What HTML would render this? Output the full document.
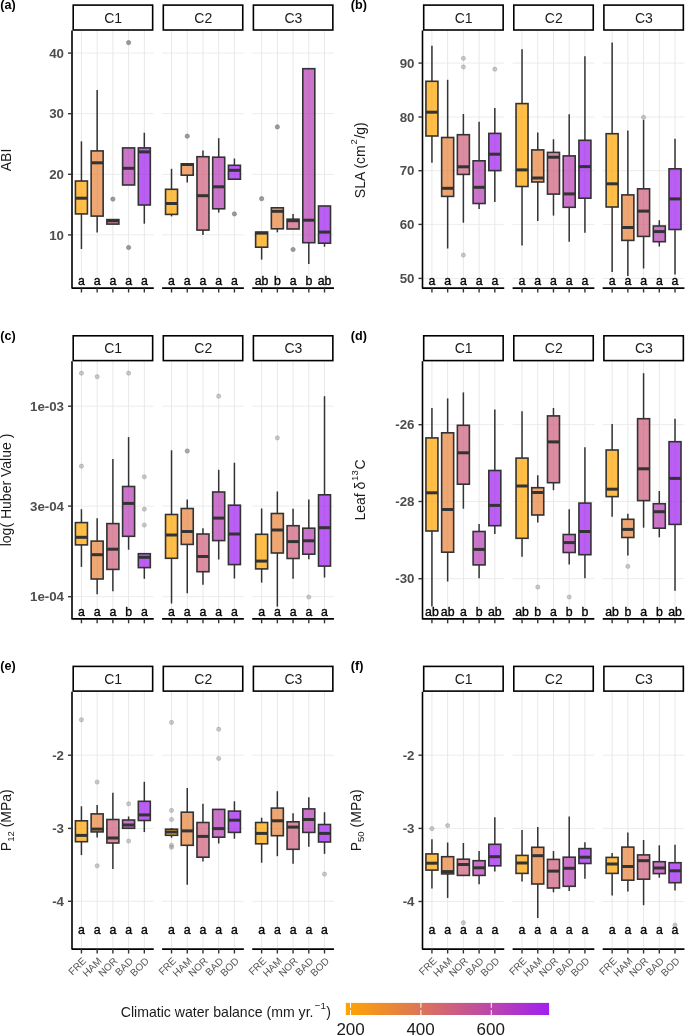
<!DOCTYPE html>
<html><head><meta charset="utf-8"><style>
html,body{margin:0;padding:0;background:#fff;width:685px;height:1036px;overflow:hidden}
svg{display:block;will-change:transform}
text{font-family:"Liberation Sans",sans-serif}
</style></head><body>
<svg width="685" height="1036" viewBox="0 0 685 1036">
<defs><linearGradient id="cg" x1="0" x2="1" y1="0" y2="0">
<stop offset="0" stop-color="#ffa500"/><stop offset="1" stop-color="#a020f0"/></linearGradient></defs>
<line x1="72" x2="153.75" y1="53.1" y2="53.1" stroke="#ececec" stroke-width="1"/>
<line x1="72" x2="153.75" y1="113.7" y2="113.7" stroke="#ececec" stroke-width="1"/>
<line x1="72" x2="153.75" y1="174.3" y2="174.3" stroke="#ececec" stroke-width="1"/>
<line x1="72" x2="153.75" y1="234.9" y2="234.9" stroke="#ececec" stroke-width="1"/>
<line x1="81.43" x2="81.43" y1="30" y2="288.1" stroke="#e8e8e8" stroke-width="1"/>
<line x1="97.15" x2="97.15" y1="30" y2="288.1" stroke="#e8e8e8" stroke-width="1"/>
<line x1="112.88" x2="112.88" y1="30" y2="288.1" stroke="#e8e8e8" stroke-width="1"/>
<line x1="128.6" x2="128.6" y1="30" y2="288.1" stroke="#e8e8e8" stroke-width="1"/>
<line x1="144.32" x2="144.32" y1="30" y2="288.1" stroke="#e8e8e8" stroke-width="1"/>
<line x1="162.1" x2="243.85" y1="53.1" y2="53.1" stroke="#ececec" stroke-width="1"/>
<line x1="162.1" x2="243.85" y1="113.7" y2="113.7" stroke="#ececec" stroke-width="1"/>
<line x1="162.1" x2="243.85" y1="174.3" y2="174.3" stroke="#ececec" stroke-width="1"/>
<line x1="162.1" x2="243.85" y1="234.9" y2="234.9" stroke="#ececec" stroke-width="1"/>
<line x1="171.53" x2="171.53" y1="30" y2="288.1" stroke="#e8e8e8" stroke-width="1"/>
<line x1="187.25" x2="187.25" y1="30" y2="288.1" stroke="#e8e8e8" stroke-width="1"/>
<line x1="202.97" x2="202.97" y1="30" y2="288.1" stroke="#e8e8e8" stroke-width="1"/>
<line x1="218.7" x2="218.7" y1="30" y2="288.1" stroke="#e8e8e8" stroke-width="1"/>
<line x1="234.42" x2="234.42" y1="30" y2="288.1" stroke="#e8e8e8" stroke-width="1"/>
<line x1="252.2" x2="333.95" y1="53.1" y2="53.1" stroke="#ececec" stroke-width="1"/>
<line x1="252.2" x2="333.95" y1="113.7" y2="113.7" stroke="#ececec" stroke-width="1"/>
<line x1="252.2" x2="333.95" y1="174.3" y2="174.3" stroke="#ececec" stroke-width="1"/>
<line x1="252.2" x2="333.95" y1="234.9" y2="234.9" stroke="#ececec" stroke-width="1"/>
<line x1="261.63" x2="261.63" y1="30" y2="288.1" stroke="#e8e8e8" stroke-width="1"/>
<line x1="277.35" x2="277.35" y1="30" y2="288.1" stroke="#e8e8e8" stroke-width="1"/>
<line x1="293.07" x2="293.07" y1="30" y2="288.1" stroke="#e8e8e8" stroke-width="1"/>
<line x1="308.8" x2="308.8" y1="30" y2="288.1" stroke="#e8e8e8" stroke-width="1"/>
<line x1="324.52" x2="324.52" y1="30" y2="288.1" stroke="#e8e8e8" stroke-width="1"/>
<line x1="81.43" x2="81.43" y1="141.3" y2="181" stroke="#333333" stroke-width="1.5"/>
<line x1="81.43" x2="81.43" y1="213.9" y2="249" stroke="#333333" stroke-width="1.5"/>
<rect x="75.43" y="181" width="12" height="32.9" fill="#ffa500" fill-opacity="0.72" stroke="#333333" stroke-width="1.6"/>
<line x1="75.43" x2="87.43" y1="198.2" y2="198.2" stroke="#333333" stroke-width="3.0"/>
<text x="81.43" y="285.1" font-size="12.3" text-anchor="middle" fill="#000" stroke="#000" stroke-width="0.35">a</text>
<line x1="97.15" x2="97.15" y1="89.9" y2="150.9" stroke="#333333" stroke-width="1.5"/>
<line x1="97.15" x2="97.15" y1="216.1" y2="232.6" stroke="#333333" stroke-width="1.5"/>
<rect x="91.15" y="150.9" width="12" height="65.2" fill="#e8843b" fill-opacity="0.72" stroke="#333333" stroke-width="1.6"/>
<line x1="91.15" x2="103.15" y1="162.8" y2="162.8" stroke="#333333" stroke-width="3.0"/>
<text x="97.15" y="285.1" font-size="12.3" text-anchor="middle" fill="#000" stroke="#000" stroke-width="0.35">a</text>
<rect x="106.88" y="219.6" width="12" height="4.5" fill="#ce607c" fill-opacity="0.72" stroke="#333333" stroke-width="1.6"/>
<line x1="106.88" x2="118.88" y1="220.8" y2="220.8" stroke="#333333" stroke-width="3.0"/>
<circle cx="112.88" cy="199.1" r="2.1" fill="#808080" fill-opacity="0.78" stroke="#808080" stroke-opacity="0.78" stroke-width="0.9"/>
<text x="112.88" y="285.1" font-size="12.3" text-anchor="middle" fill="#000" stroke="#000" stroke-width="0.35">a</text>
<rect x="122.6" y="147.9" width="12" height="37.1" fill="#b740b6" fill-opacity="0.72" stroke="#333333" stroke-width="1.6"/>
<line x1="122.6" x2="134.6" y1="168.3" y2="168.3" stroke="#333333" stroke-width="3.0"/>
<circle cx="128.6" cy="42.6" r="2.1" fill="#808080" fill-opacity="0.78" stroke="#808080" stroke-opacity="0.78" stroke-width="0.9"/>
<circle cx="128.6" cy="247.5" r="2.1" fill="#808080" fill-opacity="0.78" stroke="#808080" stroke-opacity="0.78" stroke-width="0.9"/>
<text x="128.6" y="285.1" font-size="12.3" text-anchor="middle" fill="#000" stroke="#000" stroke-width="0.35">a</text>
<line x1="144.32" x2="144.32" y1="132.7" y2="147.9" stroke="#333333" stroke-width="1.5"/>
<line x1="144.32" x2="144.32" y1="205" y2="223.7" stroke="#333333" stroke-width="1.5"/>
<rect x="138.32" y="147.9" width="12" height="57.1" fill="#a020f0" fill-opacity="0.72" stroke="#333333" stroke-width="1.6"/>
<line x1="138.32" x2="150.32" y1="151.9" y2="151.9" stroke="#333333" stroke-width="3.0"/>
<text x="144.32" y="285.1" font-size="12.3" text-anchor="middle" fill="#000" stroke="#000" stroke-width="0.35">a</text>
<line x1="171.53" x2="171.53" y1="168.8" y2="189.3" stroke="#333333" stroke-width="1.5"/>
<line x1="171.53" x2="171.53" y1="214.4" y2="216.4" stroke="#333333" stroke-width="1.5"/>
<rect x="165.53" y="189.3" width="12" height="25.1" fill="#ffa500" fill-opacity="0.72" stroke="#333333" stroke-width="1.6"/>
<line x1="165.53" x2="177.53" y1="203.5" y2="203.5" stroke="#333333" stroke-width="3.0"/>
<text x="171.53" y="285.1" font-size="12.3" text-anchor="middle" fill="#000" stroke="#000" stroke-width="0.35">a</text>
<line x1="187.25" x2="187.25" y1="175.2" y2="182.5" stroke="#333333" stroke-width="1.5"/>
<rect x="181.25" y="163.8" width="12" height="11.4" fill="#e8843b" fill-opacity="0.72" stroke="#333333" stroke-width="1.6"/>
<line x1="181.25" x2="193.25" y1="164.5" y2="164.5" stroke="#333333" stroke-width="3.0"/>
<circle cx="187.25" cy="136.2" r="2.1" fill="#808080" fill-opacity="0.78" stroke="#808080" stroke-opacity="0.78" stroke-width="0.9"/>
<text x="187.25" y="285.1" font-size="12.3" text-anchor="middle" fill="#000" stroke="#000" stroke-width="0.35">a</text>
<line x1="202.97" x2="202.97" y1="150.4" y2="156.7" stroke="#333333" stroke-width="1.5"/>
<line x1="202.97" x2="202.97" y1="230.1" y2="234.9" stroke="#333333" stroke-width="1.5"/>
<rect x="196.97" y="156.7" width="12" height="73.4" fill="#ce607c" fill-opacity="0.72" stroke="#333333" stroke-width="1.6"/>
<line x1="196.97" x2="208.97" y1="195.7" y2="195.7" stroke="#333333" stroke-width="3.0"/>
<text x="202.97" y="285.1" font-size="12.3" text-anchor="middle" fill="#000" stroke="#000" stroke-width="0.35">a</text>
<line x1="218.7" x2="218.7" y1="138.2" y2="157.2" stroke="#333333" stroke-width="1.5"/>
<line x1="218.7" x2="218.7" y1="208.8" y2="212.6" stroke="#333333" stroke-width="1.5"/>
<rect x="212.7" y="157.2" width="12" height="51.6" fill="#b740b6" fill-opacity="0.72" stroke="#333333" stroke-width="1.6"/>
<line x1="212.7" x2="224.7" y1="186.8" y2="186.8" stroke="#333333" stroke-width="3.0"/>
<text x="218.7" y="285.1" font-size="12.3" text-anchor="middle" fill="#000" stroke="#000" stroke-width="0.35">a</text>
<line x1="234.42" x2="234.42" y1="158.5" y2="165.3" stroke="#333333" stroke-width="1.5"/>
<rect x="228.42" y="165.3" width="12" height="13.9" fill="#a020f0" fill-opacity="0.72" stroke="#333333" stroke-width="1.6"/>
<line x1="228.42" x2="240.42" y1="170.3" y2="170.3" stroke="#333333" stroke-width="3.0"/>
<circle cx="234.42" cy="213.9" r="2.1" fill="#808080" fill-opacity="0.78" stroke="#808080" stroke-opacity="0.78" stroke-width="0.9"/>
<text x="234.42" y="285.1" font-size="12.3" text-anchor="middle" fill="#000" stroke="#000" stroke-width="0.35">a</text>
<line x1="261.63" x2="261.63" y1="247.2" y2="259.6" stroke="#333333" stroke-width="1.5"/>
<rect x="255.63" y="232.1" width="12" height="15.1" fill="#ffa500" fill-opacity="0.72" stroke="#333333" stroke-width="1.6"/>
<line x1="255.63" x2="267.63" y1="233.1" y2="233.1" stroke="#333333" stroke-width="3.0"/>
<circle cx="261.63" cy="198.7" r="2.1" fill="#808080" fill-opacity="0.78" stroke="#808080" stroke-opacity="0.78" stroke-width="0.9"/>
<text x="261.63" y="285.1" font-size="12.3" text-anchor="middle" fill="#000" stroke="#000" stroke-width="0.35">ab</text>
<line x1="277.35" x2="277.35" y1="228.8" y2="232.3" stroke="#333333" stroke-width="1.5"/>
<rect x="271.35" y="207.8" width="12" height="21" fill="#e8843b" fill-opacity="0.72" stroke="#333333" stroke-width="1.6"/>
<line x1="271.35" x2="283.35" y1="211.3" y2="211.3" stroke="#333333" stroke-width="3.0"/>
<circle cx="277.35" cy="126.9" r="2.1" fill="#808080" fill-opacity="0.78" stroke="#808080" stroke-opacity="0.78" stroke-width="0.9"/>
<text x="277.35" y="285.1" font-size="12.3" text-anchor="middle" fill="#000" stroke="#000" stroke-width="0.35">b</text>
<line x1="293.07" x2="293.07" y1="213.9" y2="219.2" stroke="#333333" stroke-width="1.5"/>
<rect x="287.07" y="219.2" width="12" height="9.8" fill="#ce607c" fill-opacity="0.72" stroke="#333333" stroke-width="1.6"/>
<line x1="287.07" x2="299.07" y1="220.7" y2="220.7" stroke="#333333" stroke-width="3.0"/>
<circle cx="293.07" cy="249.5" r="2.1" fill="#808080" fill-opacity="0.78" stroke="#808080" stroke-opacity="0.78" stroke-width="0.9"/>
<text x="293.07" y="285.1" font-size="12.3" text-anchor="middle" fill="#000" stroke="#000" stroke-width="0.35">a</text>
<line x1="308.8" x2="308.8" y1="242.7" y2="263.9" stroke="#333333" stroke-width="1.5"/>
<rect x="302.8" y="68.7" width="12" height="174" fill="#b740b6" fill-opacity="0.72" stroke="#333333" stroke-width="1.6"/>
<line x1="302.8" x2="314.8" y1="220.2" y2="220.2" stroke="#333333" stroke-width="3.0"/>
<text x="308.8" y="285.1" font-size="12.3" text-anchor="middle" fill="#000" stroke="#000" stroke-width="0.35">b</text>
<line x1="324.52" x2="324.52" y1="243.2" y2="246.7" stroke="#333333" stroke-width="1.5"/>
<rect x="318.52" y="206" width="12" height="37.2" fill="#a020f0" fill-opacity="0.72" stroke="#333333" stroke-width="1.6"/>
<line x1="318.52" x2="330.52" y1="232.1" y2="232.1" stroke="#333333" stroke-width="3.0"/>
<text x="324.52" y="285.1" font-size="12.3" text-anchor="middle" fill="#000" stroke="#000" stroke-width="0.35">ab</text>
<path d="M72 30.6V288.1H153.75" fill="none" stroke="#000" stroke-width="1.6" stroke-linejoin="round"/>
<line x1="81.43" x2="81.43" y1="288.1" y2="292.5" stroke="#333" stroke-width="1.4"/>
<line x1="97.15" x2="97.15" y1="288.1" y2="292.5" stroke="#333" stroke-width="1.4"/>
<line x1="112.88" x2="112.88" y1="288.1" y2="292.5" stroke="#333" stroke-width="1.4"/>
<line x1="128.6" x2="128.6" y1="288.1" y2="292.5" stroke="#333" stroke-width="1.4"/>
<line x1="144.32" x2="144.32" y1="288.1" y2="292.5" stroke="#333" stroke-width="1.4"/>
<rect x="73.2" y="5.1" width="79.45" height="24.9" fill="#fff" stroke="#000" stroke-width="1.6"/>
<text x="113.17" y="23.1" font-size="14" text-anchor="middle" fill="#1a1a1a">C1</text>
<line x1="162.1" x2="243.85" y1="288.1" y2="288.1" stroke="#000" stroke-width="1.6"/>
<line x1="171.53" x2="171.53" y1="288.1" y2="292.5" stroke="#333" stroke-width="1.4"/>
<line x1="187.25" x2="187.25" y1="288.1" y2="292.5" stroke="#333" stroke-width="1.4"/>
<line x1="202.97" x2="202.97" y1="288.1" y2="292.5" stroke="#333" stroke-width="1.4"/>
<line x1="218.7" x2="218.7" y1="288.1" y2="292.5" stroke="#333" stroke-width="1.4"/>
<line x1="234.42" x2="234.42" y1="288.1" y2="292.5" stroke="#333" stroke-width="1.4"/>
<rect x="163.3" y="5.1" width="79.45" height="24.9" fill="#fff" stroke="#000" stroke-width="1.6"/>
<text x="203.28" y="23.1" font-size="14" text-anchor="middle" fill="#1a1a1a">C2</text>
<line x1="252.2" x2="333.95" y1="288.1" y2="288.1" stroke="#000" stroke-width="1.6"/>
<line x1="261.63" x2="261.63" y1="288.1" y2="292.5" stroke="#333" stroke-width="1.4"/>
<line x1="277.35" x2="277.35" y1="288.1" y2="292.5" stroke="#333" stroke-width="1.4"/>
<line x1="293.07" x2="293.07" y1="288.1" y2="292.5" stroke="#333" stroke-width="1.4"/>
<line x1="308.8" x2="308.8" y1="288.1" y2="292.5" stroke="#333" stroke-width="1.4"/>
<line x1="324.52" x2="324.52" y1="288.1" y2="292.5" stroke="#333" stroke-width="1.4"/>
<rect x="253.4" y="5.1" width="79.45" height="24.9" fill="#fff" stroke="#000" stroke-width="1.6"/>
<text x="293.38" y="23.1" font-size="14" text-anchor="middle" fill="#1a1a1a">C3</text>
<line x1="68" x2="72" y1="53.1" y2="53.1" stroke="#333" stroke-width="1.4"/>
<text x="64" y="57.8" font-size="13.3" font-weight="bold" text-anchor="end" fill="#4d4d4d">40</text>
<line x1="68" x2="72" y1="113.7" y2="113.7" stroke="#333" stroke-width="1.4"/>
<text x="64" y="118.4" font-size="13.3" font-weight="bold" text-anchor="end" fill="#4d4d4d">30</text>
<line x1="68" x2="72" y1="174.3" y2="174.3" stroke="#333" stroke-width="1.4"/>
<text x="64" y="179" font-size="13.3" font-weight="bold" text-anchor="end" fill="#4d4d4d">20</text>
<line x1="68" x2="72" y1="234.9" y2="234.9" stroke="#333" stroke-width="1.4"/>
<text x="64" y="239.6" font-size="13.3" font-weight="bold" text-anchor="end" fill="#4d4d4d">10</text>
<text transform="translate(10.9,160) rotate(-90)" font-size="14" text-anchor="middle" fill="#1a1a1a">ABI</text>
<text x="0.3" y="8.7" font-size="12.6" font-weight="bold" fill="#000">(a)</text>
<line x1="422.5" x2="504.25" y1="63.1" y2="63.1" stroke="#ececec" stroke-width="1"/>
<line x1="422.5" x2="504.25" y1="117" y2="117" stroke="#ececec" stroke-width="1"/>
<line x1="422.5" x2="504.25" y1="170.7" y2="170.7" stroke="#ececec" stroke-width="1"/>
<line x1="422.5" x2="504.25" y1="224.4" y2="224.4" stroke="#ececec" stroke-width="1"/>
<line x1="422.5" x2="504.25" y1="278.4" y2="278.4" stroke="#ececec" stroke-width="1"/>
<line x1="431.93" x2="431.93" y1="30" y2="288.1" stroke="#e8e8e8" stroke-width="1"/>
<line x1="447.65" x2="447.65" y1="30" y2="288.1" stroke="#e8e8e8" stroke-width="1"/>
<line x1="463.38" x2="463.38" y1="30" y2="288.1" stroke="#e8e8e8" stroke-width="1"/>
<line x1="479.1" x2="479.1" y1="30" y2="288.1" stroke="#e8e8e8" stroke-width="1"/>
<line x1="494.82" x2="494.82" y1="30" y2="288.1" stroke="#e8e8e8" stroke-width="1"/>
<line x1="512.6" x2="594.35" y1="63.1" y2="63.1" stroke="#ececec" stroke-width="1"/>
<line x1="512.6" x2="594.35" y1="117" y2="117" stroke="#ececec" stroke-width="1"/>
<line x1="512.6" x2="594.35" y1="170.7" y2="170.7" stroke="#ececec" stroke-width="1"/>
<line x1="512.6" x2="594.35" y1="224.4" y2="224.4" stroke="#ececec" stroke-width="1"/>
<line x1="512.6" x2="594.35" y1="278.4" y2="278.4" stroke="#ececec" stroke-width="1"/>
<line x1="522.03" x2="522.03" y1="30" y2="288.1" stroke="#e8e8e8" stroke-width="1"/>
<line x1="537.75" x2="537.75" y1="30" y2="288.1" stroke="#e8e8e8" stroke-width="1"/>
<line x1="553.48" x2="553.48" y1="30" y2="288.1" stroke="#e8e8e8" stroke-width="1"/>
<line x1="569.2" x2="569.2" y1="30" y2="288.1" stroke="#e8e8e8" stroke-width="1"/>
<line x1="584.92" x2="584.92" y1="30" y2="288.1" stroke="#e8e8e8" stroke-width="1"/>
<line x1="602.7" x2="684.45" y1="63.1" y2="63.1" stroke="#ececec" stroke-width="1"/>
<line x1="602.7" x2="684.45" y1="117" y2="117" stroke="#ececec" stroke-width="1"/>
<line x1="602.7" x2="684.45" y1="170.7" y2="170.7" stroke="#ececec" stroke-width="1"/>
<line x1="602.7" x2="684.45" y1="224.4" y2="224.4" stroke="#ececec" stroke-width="1"/>
<line x1="602.7" x2="684.45" y1="278.4" y2="278.4" stroke="#ececec" stroke-width="1"/>
<line x1="612.13" x2="612.13" y1="30" y2="288.1" stroke="#e8e8e8" stroke-width="1"/>
<line x1="627.85" x2="627.85" y1="30" y2="288.1" stroke="#e8e8e8" stroke-width="1"/>
<line x1="643.58" x2="643.58" y1="30" y2="288.1" stroke="#e8e8e8" stroke-width="1"/>
<line x1="659.3" x2="659.3" y1="30" y2="288.1" stroke="#e8e8e8" stroke-width="1"/>
<line x1="675.02" x2="675.02" y1="30" y2="288.1" stroke="#e8e8e8" stroke-width="1"/>
<line x1="431.93" x2="431.93" y1="45.7" y2="81.3" stroke="#333333" stroke-width="1.5"/>
<line x1="431.93" x2="431.93" y1="136" y2="162.8" stroke="#333333" stroke-width="1.5"/>
<rect x="425.93" y="81.3" width="12" height="54.7" fill="#ffa500" fill-opacity="0.72" stroke="#333333" stroke-width="1.6"/>
<line x1="425.93" x2="437.93" y1="112.2" y2="112.2" stroke="#333333" stroke-width="3.0"/>
<text x="431.93" y="285.1" font-size="12.3" text-anchor="middle" fill="#000" stroke="#000" stroke-width="0.35">a</text>
<line x1="447.65" x2="447.65" y1="79.8" y2="137.5" stroke="#333333" stroke-width="1.5"/>
<line x1="447.65" x2="447.65" y1="196.4" y2="248.5" stroke="#333333" stroke-width="1.5"/>
<rect x="441.65" y="137.5" width="12" height="58.9" fill="#e8843b" fill-opacity="0.72" stroke="#333333" stroke-width="1.6"/>
<line x1="441.65" x2="453.65" y1="188.3" y2="188.3" stroke="#333333" stroke-width="3.0"/>
<text x="447.65" y="285.1" font-size="12.3" text-anchor="middle" fill="#000" stroke="#000" stroke-width="0.35">a</text>
<line x1="463.38" x2="463.38" y1="114" y2="134.7" stroke="#333333" stroke-width="1.5"/>
<line x1="463.38" x2="463.38" y1="174.4" y2="222.7" stroke="#333333" stroke-width="1.5"/>
<rect x="457.38" y="134.7" width="12" height="39.7" fill="#ce607c" fill-opacity="0.72" stroke="#333333" stroke-width="1.6"/>
<line x1="457.38" x2="469.38" y1="166.8" y2="166.8" stroke="#333333" stroke-width="3.0"/>
<circle cx="463.38" cy="58.3" r="2.1" fill="#808080" fill-opacity="0.4" stroke="#808080" stroke-opacity="0.4" stroke-width="0.9"/>
<circle cx="463.38" cy="66.9" r="2.1" fill="#808080" fill-opacity="0.4" stroke="#808080" stroke-opacity="0.4" stroke-width="0.9"/>
<circle cx="463.38" cy="255.1" r="2.1" fill="#808080" fill-opacity="0.4" stroke="#808080" stroke-opacity="0.4" stroke-width="0.9"/>
<text x="463.38" y="285.1" font-size="12.3" text-anchor="middle" fill="#000" stroke="#000" stroke-width="0.35">a</text>
<line x1="479.1" x2="479.1" y1="121.8" y2="160.8" stroke="#333333" stroke-width="1.5"/>
<line x1="479.1" x2="479.1" y1="203.5" y2="209" stroke="#333333" stroke-width="1.5"/>
<rect x="473.1" y="160.8" width="12" height="42.7" fill="#b740b6" fill-opacity="0.72" stroke="#333333" stroke-width="1.6"/>
<line x1="473.1" x2="485.1" y1="187.3" y2="187.3" stroke="#333333" stroke-width="3.0"/>
<text x="479.1" y="285.1" font-size="12.3" text-anchor="middle" fill="#000" stroke="#000" stroke-width="0.35">a</text>
<line x1="494.82" x2="494.82" y1="107.9" y2="133.4" stroke="#333333" stroke-width="1.5"/>
<line x1="494.82" x2="494.82" y1="170.6" y2="202" stroke="#333333" stroke-width="1.5"/>
<rect x="488.82" y="133.4" width="12" height="37.2" fill="#a020f0" fill-opacity="0.72" stroke="#333333" stroke-width="1.6"/>
<line x1="488.82" x2="500.82" y1="154.2" y2="154.2" stroke="#333333" stroke-width="3.0"/>
<circle cx="494.82" cy="69.2" r="2.1" fill="#808080" fill-opacity="0.4" stroke="#808080" stroke-opacity="0.4" stroke-width="0.9"/>
<text x="494.82" y="285.1" font-size="12.3" text-anchor="middle" fill="#000" stroke="#000" stroke-width="0.35">a</text>
<line x1="522.03" x2="522.03" y1="49.2" y2="103.6" stroke="#333333" stroke-width="1.5"/>
<line x1="522.03" x2="522.03" y1="186.5" y2="245.5" stroke="#333333" stroke-width="1.5"/>
<rect x="516.03" y="103.6" width="12" height="82.9" fill="#ffa500" fill-opacity="0.72" stroke="#333333" stroke-width="1.6"/>
<line x1="516.03" x2="528.03" y1="169.9" y2="169.9" stroke="#333333" stroke-width="3.0"/>
<text x="522.03" y="285.1" font-size="12.3" text-anchor="middle" fill="#000" stroke="#000" stroke-width="0.35">a</text>
<line x1="537.75" x2="537.75" y1="132.4" y2="149.9" stroke="#333333" stroke-width="1.5"/>
<line x1="537.75" x2="537.75" y1="182" y2="221" stroke="#333333" stroke-width="1.5"/>
<rect x="531.75" y="149.9" width="12" height="32.1" fill="#e8843b" fill-opacity="0.72" stroke="#333333" stroke-width="1.6"/>
<line x1="531.75" x2="543.75" y1="178" y2="178" stroke="#333333" stroke-width="3.0"/>
<text x="537.75" y="285.1" font-size="12.3" text-anchor="middle" fill="#000" stroke="#000" stroke-width="0.35">a</text>
<line x1="553.48" x2="553.48" y1="139.3" y2="152.4" stroke="#333333" stroke-width="1.5"/>
<line x1="553.48" x2="553.48" y1="194.1" y2="215.6" stroke="#333333" stroke-width="1.5"/>
<rect x="547.48" y="152.4" width="12" height="41.7" fill="#ce607c" fill-opacity="0.72" stroke="#333333" stroke-width="1.6"/>
<line x1="547.48" x2="559.48" y1="157.2" y2="157.2" stroke="#333333" stroke-width="3.0"/>
<text x="553.48" y="285.1" font-size="12.3" text-anchor="middle" fill="#000" stroke="#000" stroke-width="0.35">a</text>
<line x1="569.2" x2="569.2" y1="114.2" y2="155.9" stroke="#333333" stroke-width="1.5"/>
<line x1="569.2" x2="569.2" y1="207.3" y2="241.7" stroke="#333333" stroke-width="1.5"/>
<rect x="563.2" y="155.9" width="12" height="51.4" fill="#b740b6" fill-opacity="0.72" stroke="#333333" stroke-width="1.6"/>
<line x1="563.2" x2="575.2" y1="193.9" y2="193.9" stroke="#333333" stroke-width="3.0"/>
<text x="569.2" y="285.1" font-size="12.3" text-anchor="middle" fill="#000" stroke="#000" stroke-width="0.35">a</text>
<line x1="584.92" x2="584.92" y1="56.3" y2="140.3" stroke="#333333" stroke-width="1.5"/>
<line x1="584.92" x2="584.92" y1="198.2" y2="232.8" stroke="#333333" stroke-width="1.5"/>
<rect x="578.92" y="140.3" width="12" height="57.9" fill="#a020f0" fill-opacity="0.72" stroke="#333333" stroke-width="1.6"/>
<line x1="578.92" x2="590.92" y1="166.6" y2="166.6" stroke="#333333" stroke-width="3.0"/>
<text x="584.92" y="285.1" font-size="12.3" text-anchor="middle" fill="#000" stroke="#000" stroke-width="0.35">a</text>
<line x1="612.13" x2="612.13" y1="42.6" y2="133.7" stroke="#333333" stroke-width="1.5"/>
<line x1="612.13" x2="612.13" y1="207" y2="272" stroke="#333333" stroke-width="1.5"/>
<rect x="606.13" y="133.7" width="12" height="73.3" fill="#ffa500" fill-opacity="0.72" stroke="#333333" stroke-width="1.6"/>
<line x1="606.13" x2="618.13" y1="183.8" y2="183.8" stroke="#333333" stroke-width="3.0"/>
<text x="612.13" y="285.1" font-size="12.3" text-anchor="middle" fill="#000" stroke="#000" stroke-width="0.35">a</text>
<line x1="627.85" x2="627.85" y1="130.4" y2="194.9" stroke="#333333" stroke-width="1.5"/>
<line x1="627.85" x2="627.85" y1="240.4" y2="276.1" stroke="#333333" stroke-width="1.5"/>
<rect x="621.85" y="194.9" width="12" height="45.5" fill="#e8843b" fill-opacity="0.72" stroke="#333333" stroke-width="1.6"/>
<line x1="621.85" x2="633.85" y1="227.5" y2="227.5" stroke="#333333" stroke-width="3.0"/>
<text x="627.85" y="285.1" font-size="12.3" text-anchor="middle" fill="#000" stroke="#000" stroke-width="0.35">a</text>
<line x1="643.58" x2="643.58" y1="119.8" y2="188.8" stroke="#333333" stroke-width="1.5"/>
<line x1="643.58" x2="643.58" y1="236.4" y2="268.5" stroke="#333333" stroke-width="1.5"/>
<rect x="637.58" y="188.8" width="12" height="47.6" fill="#ce607c" fill-opacity="0.72" stroke="#333333" stroke-width="1.6"/>
<line x1="637.58" x2="649.58" y1="211.1" y2="211.1" stroke="#333333" stroke-width="3.0"/>
<circle cx="643.58" cy="117.3" r="2.1" fill="#808080" fill-opacity="0.4" stroke="#808080" stroke-opacity="0.4" stroke-width="0.9"/>
<text x="643.58" y="285.1" font-size="12.3" text-anchor="middle" fill="#000" stroke="#000" stroke-width="0.35">a</text>
<line x1="659.3" x2="659.3" y1="220.2" y2="226" stroke="#333333" stroke-width="1.5"/>
<line x1="659.3" x2="659.3" y1="241.7" y2="246.5" stroke="#333333" stroke-width="1.5"/>
<rect x="653.3" y="226" width="12" height="15.7" fill="#b740b6" fill-opacity="0.72" stroke="#333333" stroke-width="1.6"/>
<line x1="653.3" x2="665.3" y1="231.6" y2="231.6" stroke="#333333" stroke-width="3.0"/>
<text x="659.3" y="285.1" font-size="12.3" text-anchor="middle" fill="#000" stroke="#000" stroke-width="0.35">a</text>
<line x1="675.02" x2="675.02" y1="138.8" y2="168.8" stroke="#333333" stroke-width="1.5"/>
<line x1="675.02" x2="675.02" y1="229.5" y2="274.6" stroke="#333333" stroke-width="1.5"/>
<rect x="669.02" y="168.8" width="12" height="60.7" fill="#a020f0" fill-opacity="0.72" stroke="#333333" stroke-width="1.6"/>
<line x1="669.02" x2="681.02" y1="198.9" y2="198.9" stroke="#333333" stroke-width="3.0"/>
<text x="675.02" y="285.1" font-size="12.3" text-anchor="middle" fill="#000" stroke="#000" stroke-width="0.35">a</text>
<path d="M422.5 30.6V288.1H504.25" fill="none" stroke="#000" stroke-width="1.6" stroke-linejoin="round"/>
<line x1="431.93" x2="431.93" y1="288.1" y2="292.5" stroke="#333" stroke-width="1.4"/>
<line x1="447.65" x2="447.65" y1="288.1" y2="292.5" stroke="#333" stroke-width="1.4"/>
<line x1="463.38" x2="463.38" y1="288.1" y2="292.5" stroke="#333" stroke-width="1.4"/>
<line x1="479.1" x2="479.1" y1="288.1" y2="292.5" stroke="#333" stroke-width="1.4"/>
<line x1="494.82" x2="494.82" y1="288.1" y2="292.5" stroke="#333" stroke-width="1.4"/>
<rect x="423.7" y="5.1" width="79.45" height="24.9" fill="#fff" stroke="#000" stroke-width="1.6"/>
<text x="463.68" y="23.1" font-size="14" text-anchor="middle" fill="#1a1a1a">C1</text>
<line x1="512.6" x2="594.35" y1="288.1" y2="288.1" stroke="#000" stroke-width="1.6"/>
<line x1="522.03" x2="522.03" y1="288.1" y2="292.5" stroke="#333" stroke-width="1.4"/>
<line x1="537.75" x2="537.75" y1="288.1" y2="292.5" stroke="#333" stroke-width="1.4"/>
<line x1="553.48" x2="553.48" y1="288.1" y2="292.5" stroke="#333" stroke-width="1.4"/>
<line x1="569.2" x2="569.2" y1="288.1" y2="292.5" stroke="#333" stroke-width="1.4"/>
<line x1="584.92" x2="584.92" y1="288.1" y2="292.5" stroke="#333" stroke-width="1.4"/>
<rect x="513.8" y="5.1" width="79.45" height="24.9" fill="#fff" stroke="#000" stroke-width="1.6"/>
<text x="553.77" y="23.1" font-size="14" text-anchor="middle" fill="#1a1a1a">C2</text>
<line x1="602.7" x2="684.45" y1="288.1" y2="288.1" stroke="#000" stroke-width="1.6"/>
<line x1="612.13" x2="612.13" y1="288.1" y2="292.5" stroke="#333" stroke-width="1.4"/>
<line x1="627.85" x2="627.85" y1="288.1" y2="292.5" stroke="#333" stroke-width="1.4"/>
<line x1="643.58" x2="643.58" y1="288.1" y2="292.5" stroke="#333" stroke-width="1.4"/>
<line x1="659.3" x2="659.3" y1="288.1" y2="292.5" stroke="#333" stroke-width="1.4"/>
<line x1="675.02" x2="675.02" y1="288.1" y2="292.5" stroke="#333" stroke-width="1.4"/>
<rect x="603.9" y="5.1" width="79.45" height="24.9" fill="#fff" stroke="#000" stroke-width="1.6"/>
<text x="643.88" y="23.1" font-size="14" text-anchor="middle" fill="#1a1a1a">C3</text>
<line x1="418.5" x2="422.5" y1="63.1" y2="63.1" stroke="#333" stroke-width="1.4"/>
<text x="414.5" y="67.8" font-size="13.3" font-weight="bold" text-anchor="end" fill="#4d4d4d">90</text>
<line x1="418.5" x2="422.5" y1="117" y2="117" stroke="#333" stroke-width="1.4"/>
<text x="414.5" y="121.7" font-size="13.3" font-weight="bold" text-anchor="end" fill="#4d4d4d">80</text>
<line x1="418.5" x2="422.5" y1="170.7" y2="170.7" stroke="#333" stroke-width="1.4"/>
<text x="414.5" y="175.4" font-size="13.3" font-weight="bold" text-anchor="end" fill="#4d4d4d">70</text>
<line x1="418.5" x2="422.5" y1="224.4" y2="224.4" stroke="#333" stroke-width="1.4"/>
<text x="414.5" y="229.1" font-size="13.3" font-weight="bold" text-anchor="end" fill="#4d4d4d">60</text>
<line x1="418.5" x2="422.5" y1="278.4" y2="278.4" stroke="#333" stroke-width="1.4"/>
<text x="414.5" y="283.1" font-size="13.3" font-weight="bold" text-anchor="end" fill="#4d4d4d">50</text>
<text transform="translate(364.6,160.2) rotate(-90)" font-size="14" text-anchor="middle" fill="#1a1a1a">SLA (cm<tspan dx="0.7" dy="-7.3" font-size="9.5">2</tspan><tspan dx="0.7" dy="7.3">/g)</tspan></text>
<text x="350.8" y="8.7" font-size="12.6" font-weight="bold" fill="#000">(b)</text>
<line x1="72" x2="153.75" y1="406.2" y2="406.2" stroke="#ececec" stroke-width="1"/>
<line x1="72" x2="153.75" y1="506.1" y2="506.1" stroke="#ececec" stroke-width="1"/>
<line x1="72" x2="153.75" y1="596.7" y2="596.7" stroke="#ececec" stroke-width="1"/>
<line x1="81.43" x2="81.43" y1="360.6" y2="618.9" stroke="#e8e8e8" stroke-width="1"/>
<line x1="97.15" x2="97.15" y1="360.6" y2="618.9" stroke="#e8e8e8" stroke-width="1"/>
<line x1="112.88" x2="112.88" y1="360.6" y2="618.9" stroke="#e8e8e8" stroke-width="1"/>
<line x1="128.6" x2="128.6" y1="360.6" y2="618.9" stroke="#e8e8e8" stroke-width="1"/>
<line x1="144.32" x2="144.32" y1="360.6" y2="618.9" stroke="#e8e8e8" stroke-width="1"/>
<line x1="162.1" x2="243.85" y1="406.2" y2="406.2" stroke="#ececec" stroke-width="1"/>
<line x1="162.1" x2="243.85" y1="506.1" y2="506.1" stroke="#ececec" stroke-width="1"/>
<line x1="162.1" x2="243.85" y1="596.7" y2="596.7" stroke="#ececec" stroke-width="1"/>
<line x1="171.53" x2="171.53" y1="360.6" y2="618.9" stroke="#e8e8e8" stroke-width="1"/>
<line x1="187.25" x2="187.25" y1="360.6" y2="618.9" stroke="#e8e8e8" stroke-width="1"/>
<line x1="202.97" x2="202.97" y1="360.6" y2="618.9" stroke="#e8e8e8" stroke-width="1"/>
<line x1="218.7" x2="218.7" y1="360.6" y2="618.9" stroke="#e8e8e8" stroke-width="1"/>
<line x1="234.42" x2="234.42" y1="360.6" y2="618.9" stroke="#e8e8e8" stroke-width="1"/>
<line x1="252.2" x2="333.95" y1="406.2" y2="406.2" stroke="#ececec" stroke-width="1"/>
<line x1="252.2" x2="333.95" y1="506.1" y2="506.1" stroke="#ececec" stroke-width="1"/>
<line x1="252.2" x2="333.95" y1="596.7" y2="596.7" stroke="#ececec" stroke-width="1"/>
<line x1="261.63" x2="261.63" y1="360.6" y2="618.9" stroke="#e8e8e8" stroke-width="1"/>
<line x1="277.35" x2="277.35" y1="360.6" y2="618.9" stroke="#e8e8e8" stroke-width="1"/>
<line x1="293.07" x2="293.07" y1="360.6" y2="618.9" stroke="#e8e8e8" stroke-width="1"/>
<line x1="308.8" x2="308.8" y1="360.6" y2="618.9" stroke="#e8e8e8" stroke-width="1"/>
<line x1="324.52" x2="324.52" y1="360.6" y2="618.9" stroke="#e8e8e8" stroke-width="1"/>
<line x1="81.43" x2="81.43" y1="509.2" y2="522.6" stroke="#333333" stroke-width="1.5"/>
<line x1="81.43" x2="81.43" y1="544.9" y2="566.9" stroke="#333333" stroke-width="1.5"/>
<rect x="75.43" y="522.6" width="12" height="22.3" fill="#ffa500" fill-opacity="0.72" stroke="#333333" stroke-width="1.6"/>
<line x1="75.43" x2="87.43" y1="537.3" y2="537.3" stroke="#333333" stroke-width="3.0"/>
<circle cx="81.43" cy="373.2" r="2.1" fill="#808080" fill-opacity="0.4" stroke="#808080" stroke-opacity="0.4" stroke-width="0.9"/>
<circle cx="81.43" cy="466.2" r="2.1" fill="#808080" fill-opacity="0.4" stroke="#808080" stroke-opacity="0.4" stroke-width="0.9"/>
<text x="81.43" y="615.8" font-size="12.3" text-anchor="middle" fill="#000" stroke="#000" stroke-width="0.35">a</text>
<line x1="97.15" x2="97.15" y1="518.3" y2="541.1" stroke="#333333" stroke-width="1.5"/>
<line x1="97.15" x2="97.15" y1="579" y2="594.2" stroke="#333333" stroke-width="1.5"/>
<rect x="91.15" y="541.1" width="12" height="37.9" fill="#e8843b" fill-opacity="0.72" stroke="#333333" stroke-width="1.6"/>
<line x1="91.15" x2="103.15" y1="554.7" y2="554.7" stroke="#333333" stroke-width="3.0"/>
<circle cx="97.15" cy="376.7" r="2.1" fill="#808080" fill-opacity="0.4" stroke="#808080" stroke-opacity="0.4" stroke-width="0.9"/>
<text x="97.15" y="615.8" font-size="12.3" text-anchor="middle" fill="#000" stroke="#000" stroke-width="0.35">a</text>
<line x1="112.88" x2="112.88" y1="459.1" y2="523.6" stroke="#333333" stroke-width="1.5"/>
<line x1="112.88" x2="112.88" y1="569.4" y2="591.2" stroke="#333333" stroke-width="1.5"/>
<rect x="106.88" y="523.6" width="12" height="45.8" fill="#ce607c" fill-opacity="0.72" stroke="#333333" stroke-width="1.6"/>
<line x1="106.88" x2="118.88" y1="549.2" y2="549.2" stroke="#333333" stroke-width="3.0"/>
<text x="112.88" y="615.8" font-size="12.3" text-anchor="middle" fill="#000" stroke="#000" stroke-width="0.35">a</text>
<line x1="128.6" x2="128.6" y1="437.1" y2="486.5" stroke="#333333" stroke-width="1.5"/>
<line x1="128.6" x2="128.6" y1="536.3" y2="549.7" stroke="#333333" stroke-width="1.5"/>
<rect x="122.6" y="486.5" width="12" height="49.8" fill="#b740b6" fill-opacity="0.72" stroke="#333333" stroke-width="1.6"/>
<line x1="122.6" x2="134.6" y1="503.4" y2="503.4" stroke="#333333" stroke-width="3.0"/>
<circle cx="128.6" cy="373.2" r="2.1" fill="#808080" fill-opacity="0.4" stroke="#808080" stroke-opacity="0.4" stroke-width="0.9"/>
<text x="128.6" y="615.8" font-size="12.3" text-anchor="middle" fill="#000" stroke="#000" stroke-width="0.35">b</text>
<line x1="144.32" x2="144.32" y1="567.6" y2="578.8" stroke="#333333" stroke-width="1.5"/>
<rect x="138.32" y="553.7" width="12" height="13.9" fill="#a020f0" fill-opacity="0.72" stroke="#333333" stroke-width="1.6"/>
<line x1="138.32" x2="150.32" y1="557.3" y2="557.3" stroke="#333333" stroke-width="3.0"/>
<circle cx="144.32" cy="476.8" r="2.1" fill="#808080" fill-opacity="0.4" stroke="#808080" stroke-opacity="0.4" stroke-width="0.9"/>
<circle cx="144.32" cy="509.2" r="2.1" fill="#808080" fill-opacity="0.4" stroke="#808080" stroke-opacity="0.4" stroke-width="0.9"/>
<circle cx="144.32" cy="525.1" r="2.1" fill="#808080" fill-opacity="0.4" stroke="#808080" stroke-opacity="0.4" stroke-width="0.9"/>
<text x="144.32" y="615.8" font-size="12.3" text-anchor="middle" fill="#000" stroke="#000" stroke-width="0.35">a</text>
<line x1="171.53" x2="171.53" y1="450.3" y2="514.5" stroke="#333333" stroke-width="1.5"/>
<line x1="171.53" x2="171.53" y1="558.3" y2="603.5" stroke="#333333" stroke-width="1.5"/>
<rect x="165.53" y="514.5" width="12" height="43.8" fill="#ffa500" fill-opacity="0.72" stroke="#333333" stroke-width="1.6"/>
<line x1="165.53" x2="177.53" y1="535" y2="535" stroke="#333333" stroke-width="3.0"/>
<text x="171.53" y="615.8" font-size="12.3" text-anchor="middle" fill="#000" stroke="#000" stroke-width="0.35">a</text>
<line x1="187.25" x2="187.25" y1="499.4" y2="508.5" stroke="#333333" stroke-width="1.5"/>
<line x1="187.25" x2="187.25" y1="544.4" y2="593.2" stroke="#333333" stroke-width="1.5"/>
<rect x="181.25" y="508.5" width="12" height="35.9" fill="#e8843b" fill-opacity="0.72" stroke="#333333" stroke-width="1.6"/>
<line x1="181.25" x2="193.25" y1="531.5" y2="531.5" stroke="#333333" stroke-width="3.0"/>
<circle cx="187.25" cy="451" r="2.1" fill="#808080" fill-opacity="0.4" stroke="#808080" stroke-opacity="0.4" stroke-width="0.9"/>
<circle cx="187.25" cy="451" r="2.1" fill="#808080" fill-opacity="0.4" stroke="#808080" stroke-opacity="0.4" stroke-width="0.9"/>
<text x="187.25" y="615.8" font-size="12.3" text-anchor="middle" fill="#000" stroke="#000" stroke-width="0.35">a</text>
<line x1="202.97" x2="202.97" y1="528.2" y2="534" stroke="#333333" stroke-width="1.5"/>
<line x1="202.97" x2="202.97" y1="571.7" y2="584.8" stroke="#333333" stroke-width="1.5"/>
<rect x="196.97" y="534" width="12" height="37.7" fill="#ce607c" fill-opacity="0.72" stroke="#333333" stroke-width="1.6"/>
<line x1="196.97" x2="208.97" y1="556.5" y2="556.5" stroke="#333333" stroke-width="3.0"/>
<text x="202.97" y="615.8" font-size="12.3" text-anchor="middle" fill="#000" stroke="#000" stroke-width="0.35">a</text>
<line x1="218.7" x2="218.7" y1="469.8" y2="492" stroke="#333333" stroke-width="1.5"/>
<line x1="218.7" x2="218.7" y1="540.6" y2="559.5" stroke="#333333" stroke-width="1.5"/>
<rect x="212.7" y="492" width="12" height="48.6" fill="#b740b6" fill-opacity="0.72" stroke="#333333" stroke-width="1.6"/>
<line x1="212.7" x2="224.7" y1="518.1" y2="518.1" stroke="#333333" stroke-width="3.0"/>
<circle cx="218.7" cy="396.2" r="2.1" fill="#808080" fill-opacity="0.4" stroke="#808080" stroke-opacity="0.4" stroke-width="0.9"/>
<text x="218.7" y="615.8" font-size="12.3" text-anchor="middle" fill="#000" stroke="#000" stroke-width="0.35">a</text>
<line x1="234.42" x2="234.42" y1="462.7" y2="505.2" stroke="#333333" stroke-width="1.5"/>
<line x1="234.42" x2="234.42" y1="564.6" y2="578.5" stroke="#333333" stroke-width="1.5"/>
<rect x="228.42" y="505.2" width="12" height="59.4" fill="#a020f0" fill-opacity="0.72" stroke="#333333" stroke-width="1.6"/>
<line x1="228.42" x2="240.42" y1="534" y2="534" stroke="#333333" stroke-width="3.0"/>
<text x="234.42" y="615.8" font-size="12.3" text-anchor="middle" fill="#000" stroke="#000" stroke-width="0.35">a</text>
<line x1="261.63" x2="261.63" y1="508.5" y2="534.3" stroke="#333333" stroke-width="1.5"/>
<line x1="261.63" x2="261.63" y1="568.9" y2="582.6" stroke="#333333" stroke-width="1.5"/>
<rect x="255.63" y="534.3" width="12" height="34.6" fill="#ffa500" fill-opacity="0.72" stroke="#333333" stroke-width="1.6"/>
<line x1="255.63" x2="267.63" y1="561.1" y2="561.1" stroke="#333333" stroke-width="3.0"/>
<text x="261.63" y="615.8" font-size="12.3" text-anchor="middle" fill="#000" stroke="#000" stroke-width="0.35">a</text>
<line x1="277.35" x2="277.35" y1="491.5" y2="513.5" stroke="#333333" stroke-width="1.5"/>
<line x1="277.35" x2="277.35" y1="553" y2="606.6" stroke="#333333" stroke-width="1.5"/>
<rect x="271.35" y="513.5" width="12" height="39.5" fill="#e8843b" fill-opacity="0.72" stroke="#333333" stroke-width="1.6"/>
<line x1="271.35" x2="283.35" y1="530" y2="530" stroke="#333333" stroke-width="3.0"/>
<circle cx="277.35" cy="437.9" r="2.1" fill="#808080" fill-opacity="0.4" stroke="#808080" stroke-opacity="0.4" stroke-width="0.9"/>
<text x="277.35" y="615.8" font-size="12.3" text-anchor="middle" fill="#000" stroke="#000" stroke-width="0.35">a</text>
<line x1="293.07" x2="293.07" y1="508.7" y2="525.7" stroke="#333333" stroke-width="1.5"/>
<line x1="293.07" x2="293.07" y1="558.5" y2="578.8" stroke="#333333" stroke-width="1.5"/>
<rect x="287.07" y="525.7" width="12" height="32.8" fill="#ce607c" fill-opacity="0.72" stroke="#333333" stroke-width="1.6"/>
<line x1="287.07" x2="299.07" y1="541.6" y2="541.6" stroke="#333333" stroke-width="3.0"/>
<text x="293.07" y="615.8" font-size="12.3" text-anchor="middle" fill="#000" stroke="#000" stroke-width="0.35">a</text>
<line x1="308.8" x2="308.8" y1="499.4" y2="528.2" stroke="#333333" stroke-width="1.5"/>
<line x1="308.8" x2="308.8" y1="554.2" y2="559.3" stroke="#333333" stroke-width="1.5"/>
<rect x="302.8" y="528.2" width="12" height="26" fill="#b740b6" fill-opacity="0.72" stroke="#333333" stroke-width="1.6"/>
<line x1="302.8" x2="314.8" y1="540.8" y2="540.8" stroke="#333333" stroke-width="3.0"/>
<circle cx="308.8" cy="597" r="2.1" fill="#808080" fill-opacity="0.4" stroke="#808080" stroke-opacity="0.4" stroke-width="0.9"/>
<text x="308.8" y="615.8" font-size="12.3" text-anchor="middle" fill="#000" stroke="#000" stroke-width="0.35">a</text>
<line x1="324.52" x2="324.52" y1="396.2" y2="494.8" stroke="#333333" stroke-width="1.5"/>
<line x1="324.52" x2="324.52" y1="566.1" y2="577.5" stroke="#333333" stroke-width="1.5"/>
<rect x="318.52" y="494.8" width="12" height="71.3" fill="#a020f0" fill-opacity="0.72" stroke="#333333" stroke-width="1.6"/>
<line x1="318.52" x2="330.52" y1="527.7" y2="527.7" stroke="#333333" stroke-width="3.0"/>
<text x="324.52" y="615.8" font-size="12.3" text-anchor="middle" fill="#000" stroke="#000" stroke-width="0.35">a</text>
<path d="M72 361.2V618.9H153.75" fill="none" stroke="#000" stroke-width="1.6" stroke-linejoin="round"/>
<line x1="81.43" x2="81.43" y1="618.9" y2="623.3" stroke="#333" stroke-width="1.4"/>
<line x1="97.15" x2="97.15" y1="618.9" y2="623.3" stroke="#333" stroke-width="1.4"/>
<line x1="112.88" x2="112.88" y1="618.9" y2="623.3" stroke="#333" stroke-width="1.4"/>
<line x1="128.6" x2="128.6" y1="618.9" y2="623.3" stroke="#333" stroke-width="1.4"/>
<line x1="144.32" x2="144.32" y1="618.9" y2="623.3" stroke="#333" stroke-width="1.4"/>
<rect x="73.2" y="335.8" width="79.45" height="24.8" fill="#fff" stroke="#000" stroke-width="1.6"/>
<text x="113.17" y="353.1" font-size="14" text-anchor="middle" fill="#1a1a1a">C1</text>
<line x1="162.1" x2="243.85" y1="618.9" y2="618.9" stroke="#000" stroke-width="1.6"/>
<line x1="171.53" x2="171.53" y1="618.9" y2="623.3" stroke="#333" stroke-width="1.4"/>
<line x1="187.25" x2="187.25" y1="618.9" y2="623.3" stroke="#333" stroke-width="1.4"/>
<line x1="202.97" x2="202.97" y1="618.9" y2="623.3" stroke="#333" stroke-width="1.4"/>
<line x1="218.7" x2="218.7" y1="618.9" y2="623.3" stroke="#333" stroke-width="1.4"/>
<line x1="234.42" x2="234.42" y1="618.9" y2="623.3" stroke="#333" stroke-width="1.4"/>
<rect x="163.3" y="335.8" width="79.45" height="24.8" fill="#fff" stroke="#000" stroke-width="1.6"/>
<text x="203.28" y="353.1" font-size="14" text-anchor="middle" fill="#1a1a1a">C2</text>
<line x1="252.2" x2="333.95" y1="618.9" y2="618.9" stroke="#000" stroke-width="1.6"/>
<line x1="261.63" x2="261.63" y1="618.9" y2="623.3" stroke="#333" stroke-width="1.4"/>
<line x1="277.35" x2="277.35" y1="618.9" y2="623.3" stroke="#333" stroke-width="1.4"/>
<line x1="293.07" x2="293.07" y1="618.9" y2="623.3" stroke="#333" stroke-width="1.4"/>
<line x1="308.8" x2="308.8" y1="618.9" y2="623.3" stroke="#333" stroke-width="1.4"/>
<line x1="324.52" x2="324.52" y1="618.9" y2="623.3" stroke="#333" stroke-width="1.4"/>
<rect x="253.4" y="335.8" width="79.45" height="24.8" fill="#fff" stroke="#000" stroke-width="1.6"/>
<text x="293.38" y="353.1" font-size="14" text-anchor="middle" fill="#1a1a1a">C3</text>
<line x1="68" x2="72" y1="406.2" y2="406.2" stroke="#333" stroke-width="1.4"/>
<text x="64" y="410.9" font-size="13.3" font-weight="bold" text-anchor="end" fill="#4d4d4d">1e-03</text>
<line x1="68" x2="72" y1="506.1" y2="506.1" stroke="#333" stroke-width="1.4"/>
<text x="64" y="510.8" font-size="13.3" font-weight="bold" text-anchor="end" fill="#4d4d4d">3e-04</text>
<line x1="68" x2="72" y1="596.7" y2="596.7" stroke="#333" stroke-width="1.4"/>
<text x="64" y="601.4" font-size="13.3" font-weight="bold" text-anchor="end" fill="#4d4d4d">1e-04</text>
<text transform="translate(11.1,490) rotate(-90)" font-size="14" text-anchor="middle" fill="#1a1a1a">log( Huber Value )</text>
<text x="0.3" y="340.2" font-size="12.6" font-weight="bold" fill="#000">(c)</text>
<line x1="422.5" x2="504.25" y1="424.7" y2="424.7" stroke="#ececec" stroke-width="1"/>
<line x1="422.5" x2="504.25" y1="501.5" y2="501.5" stroke="#ececec" stroke-width="1"/>
<line x1="422.5" x2="504.25" y1="578.7" y2="578.7" stroke="#ececec" stroke-width="1"/>
<line x1="431.93" x2="431.93" y1="360.6" y2="618.9" stroke="#e8e8e8" stroke-width="1"/>
<line x1="447.65" x2="447.65" y1="360.6" y2="618.9" stroke="#e8e8e8" stroke-width="1"/>
<line x1="463.38" x2="463.38" y1="360.6" y2="618.9" stroke="#e8e8e8" stroke-width="1"/>
<line x1="479.1" x2="479.1" y1="360.6" y2="618.9" stroke="#e8e8e8" stroke-width="1"/>
<line x1="494.82" x2="494.82" y1="360.6" y2="618.9" stroke="#e8e8e8" stroke-width="1"/>
<line x1="512.6" x2="594.35" y1="424.7" y2="424.7" stroke="#ececec" stroke-width="1"/>
<line x1="512.6" x2="594.35" y1="501.5" y2="501.5" stroke="#ececec" stroke-width="1"/>
<line x1="512.6" x2="594.35" y1="578.7" y2="578.7" stroke="#ececec" stroke-width="1"/>
<line x1="522.03" x2="522.03" y1="360.6" y2="618.9" stroke="#e8e8e8" stroke-width="1"/>
<line x1="537.75" x2="537.75" y1="360.6" y2="618.9" stroke="#e8e8e8" stroke-width="1"/>
<line x1="553.48" x2="553.48" y1="360.6" y2="618.9" stroke="#e8e8e8" stroke-width="1"/>
<line x1="569.2" x2="569.2" y1="360.6" y2="618.9" stroke="#e8e8e8" stroke-width="1"/>
<line x1="584.92" x2="584.92" y1="360.6" y2="618.9" stroke="#e8e8e8" stroke-width="1"/>
<line x1="602.7" x2="684.45" y1="424.7" y2="424.7" stroke="#ececec" stroke-width="1"/>
<line x1="602.7" x2="684.45" y1="501.5" y2="501.5" stroke="#ececec" stroke-width="1"/>
<line x1="602.7" x2="684.45" y1="578.7" y2="578.7" stroke="#ececec" stroke-width="1"/>
<line x1="612.13" x2="612.13" y1="360.6" y2="618.9" stroke="#e8e8e8" stroke-width="1"/>
<line x1="627.85" x2="627.85" y1="360.6" y2="618.9" stroke="#e8e8e8" stroke-width="1"/>
<line x1="643.58" x2="643.58" y1="360.6" y2="618.9" stroke="#e8e8e8" stroke-width="1"/>
<line x1="659.3" x2="659.3" y1="360.6" y2="618.9" stroke="#e8e8e8" stroke-width="1"/>
<line x1="675.02" x2="675.02" y1="360.6" y2="618.9" stroke="#e8e8e8" stroke-width="1"/>
<line x1="431.93" x2="431.93" y1="408" y2="437.9" stroke="#333333" stroke-width="1.5"/>
<line x1="431.93" x2="431.93" y1="531" y2="606.6" stroke="#333333" stroke-width="1.5"/>
<rect x="425.93" y="437.9" width="12" height="93.1" fill="#ffa500" fill-opacity="0.72" stroke="#333333" stroke-width="1.6"/>
<line x1="425.93" x2="437.93" y1="492.8" y2="492.8" stroke="#333333" stroke-width="3.0"/>
<text x="431.93" y="615.8" font-size="12.3" text-anchor="middle" fill="#000" stroke="#000" stroke-width="0.35">ab</text>
<line x1="447.65" x2="447.65" y1="398.4" y2="432.8" stroke="#333333" stroke-width="1.5"/>
<line x1="447.65" x2="447.65" y1="552.2" y2="581.5" stroke="#333333" stroke-width="1.5"/>
<rect x="441.65" y="432.8" width="12" height="119.4" fill="#e8843b" fill-opacity="0.72" stroke="#333333" stroke-width="1.6"/>
<line x1="441.65" x2="453.65" y1="509.5" y2="509.5" stroke="#333333" stroke-width="3.0"/>
<text x="447.65" y="615.8" font-size="12.3" text-anchor="middle" fill="#000" stroke="#000" stroke-width="0.35">ab</text>
<line x1="463.38" x2="463.38" y1="392.4" y2="425.3" stroke="#333333" stroke-width="1.5"/>
<line x1="463.38" x2="463.38" y1="484.2" y2="508.7" stroke="#333333" stroke-width="1.5"/>
<rect x="457.38" y="425.3" width="12" height="58.9" fill="#ce607c" fill-opacity="0.72" stroke="#333333" stroke-width="1.6"/>
<line x1="457.38" x2="469.38" y1="452.8" y2="452.8" stroke="#333333" stroke-width="3.0"/>
<text x="463.38" y="615.8" font-size="12.3" text-anchor="middle" fill="#000" stroke="#000" stroke-width="0.35">a</text>
<line x1="479.1" x2="479.1" y1="523.9" y2="531.5" stroke="#333333" stroke-width="1.5"/>
<line x1="479.1" x2="479.1" y1="564.9" y2="578.3" stroke="#333333" stroke-width="1.5"/>
<rect x="473.1" y="531.5" width="12" height="33.4" fill="#b740b6" fill-opacity="0.72" stroke="#333333" stroke-width="1.6"/>
<line x1="473.1" x2="485.1" y1="549.4" y2="549.4" stroke="#333333" stroke-width="3.0"/>
<text x="479.1" y="615.8" font-size="12.3" text-anchor="middle" fill="#000" stroke="#000" stroke-width="0.35">b</text>
<line x1="494.82" x2="494.82" y1="409.6" y2="470.5" stroke="#333333" stroke-width="1.5"/>
<line x1="494.82" x2="494.82" y1="525.7" y2="534" stroke="#333333" stroke-width="1.5"/>
<rect x="488.82" y="470.5" width="12" height="55.2" fill="#a020f0" fill-opacity="0.72" stroke="#333333" stroke-width="1.6"/>
<line x1="488.82" x2="500.82" y1="505.4" y2="505.4" stroke="#333333" stroke-width="3.0"/>
<text x="494.82" y="615.8" font-size="12.3" text-anchor="middle" fill="#000" stroke="#000" stroke-width="0.35">ab</text>
<line x1="522.03" x2="522.03" y1="411.3" y2="458.1" stroke="#333333" stroke-width="1.5"/>
<line x1="522.03" x2="522.03" y1="538.3" y2="556.8" stroke="#333333" stroke-width="1.5"/>
<rect x="516.03" y="458.1" width="12" height="80.2" fill="#ffa500" fill-opacity="0.72" stroke="#333333" stroke-width="1.6"/>
<line x1="516.03" x2="528.03" y1="486" y2="486" stroke="#333333" stroke-width="3.0"/>
<text x="522.03" y="615.8" font-size="12.3" text-anchor="middle" fill="#000" stroke="#000" stroke-width="0.35">ab</text>
<line x1="537.75" x2="537.75" y1="475.3" y2="487.7" stroke="#333333" stroke-width="1.5"/>
<line x1="537.75" x2="537.75" y1="515" y2="522.6" stroke="#333333" stroke-width="1.5"/>
<rect x="531.75" y="487.7" width="12" height="27.3" fill="#e8843b" fill-opacity="0.72" stroke="#333333" stroke-width="1.6"/>
<line x1="531.75" x2="543.75" y1="492.5" y2="492.5" stroke="#333333" stroke-width="3.0"/>
<circle cx="537.75" cy="587.1" r="2.1" fill="#808080" fill-opacity="0.4" stroke="#808080" stroke-opacity="0.4" stroke-width="0.9"/>
<text x="537.75" y="615.8" font-size="12.3" text-anchor="middle" fill="#000" stroke="#000" stroke-width="0.35">b</text>
<line x1="553.48" x2="553.48" y1="408" y2="415.9" stroke="#333333" stroke-width="1.5"/>
<line x1="553.48" x2="553.48" y1="482.7" y2="490.2" stroke="#333333" stroke-width="1.5"/>
<rect x="547.48" y="415.9" width="12" height="66.8" fill="#ce607c" fill-opacity="0.72" stroke="#333333" stroke-width="1.6"/>
<line x1="547.48" x2="559.48" y1="441.9" y2="441.9" stroke="#333333" stroke-width="3.0"/>
<text x="553.48" y="615.8" font-size="12.3" text-anchor="middle" fill="#000" stroke="#000" stroke-width="0.35">a</text>
<line x1="569.2" x2="569.2" y1="509.2" y2="534.5" stroke="#333333" stroke-width="1.5"/>
<line x1="569.2" x2="569.2" y1="552.5" y2="564.4" stroke="#333333" stroke-width="1.5"/>
<rect x="563.2" y="534.5" width="12" height="18" fill="#b740b6" fill-opacity="0.72" stroke="#333333" stroke-width="1.6"/>
<line x1="563.2" x2="575.2" y1="542.6" y2="542.6" stroke="#333333" stroke-width="3.0"/>
<circle cx="569.2" cy="597" r="2.1" fill="#808080" fill-opacity="0.4" stroke="#808080" stroke-opacity="0.4" stroke-width="0.9"/>
<text x="569.2" y="615.8" font-size="12.3" text-anchor="middle" fill="#000" stroke="#000" stroke-width="0.35">b</text>
<line x1="584.92" x2="584.92" y1="447.3" y2="503.1" stroke="#333333" stroke-width="1.5"/>
<line x1="584.92" x2="584.92" y1="554.7" y2="578.3" stroke="#333333" stroke-width="1.5"/>
<rect x="578.92" y="503.1" width="12" height="51.6" fill="#a020f0" fill-opacity="0.72" stroke="#333333" stroke-width="1.6"/>
<line x1="578.92" x2="590.92" y1="531.5" y2="531.5" stroke="#333333" stroke-width="3.0"/>
<text x="584.92" y="615.8" font-size="12.3" text-anchor="middle" fill="#000" stroke="#000" stroke-width="0.35">b</text>
<line x1="612.13" x2="612.13" y1="424" y2="450" stroke="#333333" stroke-width="1.5"/>
<line x1="612.13" x2="612.13" y1="496.6" y2="516.8" stroke="#333333" stroke-width="1.5"/>
<rect x="606.13" y="450" width="12" height="46.6" fill="#ffa500" fill-opacity="0.72" stroke="#333333" stroke-width="1.6"/>
<line x1="606.13" x2="618.13" y1="489.2" y2="489.2" stroke="#333333" stroke-width="3.0"/>
<text x="612.13" y="615.8" font-size="12.3" text-anchor="middle" fill="#000" stroke="#000" stroke-width="0.35">ab</text>
<line x1="627.85" x2="627.85" y1="513.8" y2="519.3" stroke="#333333" stroke-width="1.5"/>
<line x1="627.85" x2="627.85" y1="537.5" y2="555.5" stroke="#333333" stroke-width="1.5"/>
<rect x="621.85" y="519.3" width="12" height="18.2" fill="#e8843b" fill-opacity="0.72" stroke="#333333" stroke-width="1.6"/>
<line x1="621.85" x2="633.85" y1="529.4" y2="529.4" stroke="#333333" stroke-width="3.0"/>
<circle cx="627.85" cy="566.4" r="2.1" fill="#808080" fill-opacity="0.4" stroke="#808080" stroke-opacity="0.4" stroke-width="0.9"/>
<text x="627.85" y="615.8" font-size="12.3" text-anchor="middle" fill="#000" stroke="#000" stroke-width="0.35">b</text>
<line x1="643.58" x2="643.58" y1="373.2" y2="418.7" stroke="#333333" stroke-width="1.5"/>
<line x1="643.58" x2="643.58" y1="500.6" y2="527.7" stroke="#333333" stroke-width="1.5"/>
<rect x="637.58" y="418.7" width="12" height="81.9" fill="#ce607c" fill-opacity="0.72" stroke="#333333" stroke-width="1.6"/>
<line x1="637.58" x2="649.58" y1="468.8" y2="468.8" stroke="#333333" stroke-width="3.0"/>
<text x="643.58" y="615.8" font-size="12.3" text-anchor="middle" fill="#000" stroke="#000" stroke-width="0.35">a</text>
<line x1="659.3" x2="659.3" y1="491" y2="503.7" stroke="#333333" stroke-width="1.5"/>
<line x1="659.3" x2="659.3" y1="528.2" y2="537.3" stroke="#333333" stroke-width="1.5"/>
<rect x="653.3" y="503.7" width="12" height="24.5" fill="#b740b6" fill-opacity="0.72" stroke="#333333" stroke-width="1.6"/>
<line x1="653.3" x2="665.3" y1="511.7" y2="511.7" stroke="#333333" stroke-width="3.0"/>
<text x="659.3" y="615.8" font-size="12.3" text-anchor="middle" fill="#000" stroke="#000" stroke-width="0.35">b</text>
<line x1="675.02" x2="675.02" y1="418.7" y2="441.7" stroke="#333333" stroke-width="1.5"/>
<line x1="675.02" x2="675.02" y1="524.4" y2="590.7" stroke="#333333" stroke-width="1.5"/>
<rect x="669.02" y="441.7" width="12" height="82.7" fill="#a020f0" fill-opacity="0.72" stroke="#333333" stroke-width="1.6"/>
<line x1="669.02" x2="681.02" y1="478.4" y2="478.4" stroke="#333333" stroke-width="3.0"/>
<text x="675.02" y="615.8" font-size="12.3" text-anchor="middle" fill="#000" stroke="#000" stroke-width="0.35">ab</text>
<path d="M422.5 361.2V618.9H504.25" fill="none" stroke="#000" stroke-width="1.6" stroke-linejoin="round"/>
<line x1="431.93" x2="431.93" y1="618.9" y2="623.3" stroke="#333" stroke-width="1.4"/>
<line x1="447.65" x2="447.65" y1="618.9" y2="623.3" stroke="#333" stroke-width="1.4"/>
<line x1="463.38" x2="463.38" y1="618.9" y2="623.3" stroke="#333" stroke-width="1.4"/>
<line x1="479.1" x2="479.1" y1="618.9" y2="623.3" stroke="#333" stroke-width="1.4"/>
<line x1="494.82" x2="494.82" y1="618.9" y2="623.3" stroke="#333" stroke-width="1.4"/>
<rect x="423.7" y="335.8" width="79.45" height="24.8" fill="#fff" stroke="#000" stroke-width="1.6"/>
<text x="463.68" y="353.1" font-size="14" text-anchor="middle" fill="#1a1a1a">C1</text>
<line x1="512.6" x2="594.35" y1="618.9" y2="618.9" stroke="#000" stroke-width="1.6"/>
<line x1="522.03" x2="522.03" y1="618.9" y2="623.3" stroke="#333" stroke-width="1.4"/>
<line x1="537.75" x2="537.75" y1="618.9" y2="623.3" stroke="#333" stroke-width="1.4"/>
<line x1="553.48" x2="553.48" y1="618.9" y2="623.3" stroke="#333" stroke-width="1.4"/>
<line x1="569.2" x2="569.2" y1="618.9" y2="623.3" stroke="#333" stroke-width="1.4"/>
<line x1="584.92" x2="584.92" y1="618.9" y2="623.3" stroke="#333" stroke-width="1.4"/>
<rect x="513.8" y="335.8" width="79.45" height="24.8" fill="#fff" stroke="#000" stroke-width="1.6"/>
<text x="553.77" y="353.1" font-size="14" text-anchor="middle" fill="#1a1a1a">C2</text>
<line x1="602.7" x2="684.45" y1="618.9" y2="618.9" stroke="#000" stroke-width="1.6"/>
<line x1="612.13" x2="612.13" y1="618.9" y2="623.3" stroke="#333" stroke-width="1.4"/>
<line x1="627.85" x2="627.85" y1="618.9" y2="623.3" stroke="#333" stroke-width="1.4"/>
<line x1="643.58" x2="643.58" y1="618.9" y2="623.3" stroke="#333" stroke-width="1.4"/>
<line x1="659.3" x2="659.3" y1="618.9" y2="623.3" stroke="#333" stroke-width="1.4"/>
<line x1="675.02" x2="675.02" y1="618.9" y2="623.3" stroke="#333" stroke-width="1.4"/>
<rect x="603.9" y="335.8" width="79.45" height="24.8" fill="#fff" stroke="#000" stroke-width="1.6"/>
<text x="643.88" y="353.1" font-size="14" text-anchor="middle" fill="#1a1a1a">C3</text>
<line x1="418.5" x2="422.5" y1="424.7" y2="424.7" stroke="#333" stroke-width="1.4"/>
<text x="414.5" y="429.4" font-size="13.3" font-weight="bold" text-anchor="end" fill="#4d4d4d">-26</text>
<line x1="418.5" x2="422.5" y1="501.5" y2="501.5" stroke="#333" stroke-width="1.4"/>
<text x="414.5" y="506.2" font-size="13.3" font-weight="bold" text-anchor="end" fill="#4d4d4d">-28</text>
<line x1="418.5" x2="422.5" y1="578.7" y2="578.7" stroke="#333" stroke-width="1.4"/>
<text x="414.5" y="583.4" font-size="13.3" font-weight="bold" text-anchor="end" fill="#4d4d4d">-30</text>
<text transform="translate(365,490) rotate(-90)" font-size="14" text-anchor="middle" fill="#1a1a1a">Leaf δ<tspan dx="0.8" dy="-7.5" font-size="9.5">13</tspan><tspan dx="0.8" dy="7.5">C</tspan></text>
<text x="350.8" y="340.2" font-size="12.6" font-weight="bold" fill="#000">(d)</text>
<line x1="72" x2="153.75" y1="755.2" y2="755.2" stroke="#ececec" stroke-width="1"/>
<line x1="72" x2="153.75" y1="828.4" y2="828.4" stroke="#ececec" stroke-width="1"/>
<line x1="72" x2="153.75" y1="901.3" y2="901.3" stroke="#ececec" stroke-width="1"/>
<line x1="81.43" x2="81.43" y1="691.1" y2="949.1" stroke="#e8e8e8" stroke-width="1"/>
<line x1="97.15" x2="97.15" y1="691.1" y2="949.1" stroke="#e8e8e8" stroke-width="1"/>
<line x1="112.88" x2="112.88" y1="691.1" y2="949.1" stroke="#e8e8e8" stroke-width="1"/>
<line x1="128.6" x2="128.6" y1="691.1" y2="949.1" stroke="#e8e8e8" stroke-width="1"/>
<line x1="144.32" x2="144.32" y1="691.1" y2="949.1" stroke="#e8e8e8" stroke-width="1"/>
<line x1="162.1" x2="243.85" y1="755.2" y2="755.2" stroke="#ececec" stroke-width="1"/>
<line x1="162.1" x2="243.85" y1="828.4" y2="828.4" stroke="#ececec" stroke-width="1"/>
<line x1="162.1" x2="243.85" y1="901.3" y2="901.3" stroke="#ececec" stroke-width="1"/>
<line x1="171.53" x2="171.53" y1="691.1" y2="949.1" stroke="#e8e8e8" stroke-width="1"/>
<line x1="187.25" x2="187.25" y1="691.1" y2="949.1" stroke="#e8e8e8" stroke-width="1"/>
<line x1="202.97" x2="202.97" y1="691.1" y2="949.1" stroke="#e8e8e8" stroke-width="1"/>
<line x1="218.7" x2="218.7" y1="691.1" y2="949.1" stroke="#e8e8e8" stroke-width="1"/>
<line x1="234.42" x2="234.42" y1="691.1" y2="949.1" stroke="#e8e8e8" stroke-width="1"/>
<line x1="252.2" x2="333.95" y1="755.2" y2="755.2" stroke="#ececec" stroke-width="1"/>
<line x1="252.2" x2="333.95" y1="828.4" y2="828.4" stroke="#ececec" stroke-width="1"/>
<line x1="252.2" x2="333.95" y1="901.3" y2="901.3" stroke="#ececec" stroke-width="1"/>
<line x1="261.63" x2="261.63" y1="691.1" y2="949.1" stroke="#e8e8e8" stroke-width="1"/>
<line x1="277.35" x2="277.35" y1="691.1" y2="949.1" stroke="#e8e8e8" stroke-width="1"/>
<line x1="293.07" x2="293.07" y1="691.1" y2="949.1" stroke="#e8e8e8" stroke-width="1"/>
<line x1="308.8" x2="308.8" y1="691.1" y2="949.1" stroke="#e8e8e8" stroke-width="1"/>
<line x1="324.52" x2="324.52" y1="691.1" y2="949.1" stroke="#e8e8e8" stroke-width="1"/>
<line x1="81.43" x2="81.43" y1="806.3" y2="820.8" stroke="#333333" stroke-width="1.5"/>
<line x1="81.43" x2="81.43" y1="841.7" y2="855.1" stroke="#333333" stroke-width="1.5"/>
<rect x="75.43" y="820.8" width="12" height="20.9" fill="#ffa500" fill-opacity="0.72" stroke="#333333" stroke-width="1.6"/>
<line x1="75.43" x2="87.43" y1="835.4" y2="835.4" stroke="#333333" stroke-width="3.0"/>
<circle cx="81.43" cy="719.8" r="2.1" fill="#808080" fill-opacity="0.4" stroke="#808080" stroke-opacity="0.4" stroke-width="0.9"/>
<text x="81.43" y="934.1" font-size="12.3" text-anchor="middle" fill="#000" stroke="#000" stroke-width="0.35">a</text>
<line x1="97.15" x2="97.15" y1="805.1" y2="813.9" stroke="#333333" stroke-width="1.5"/>
<line x1="97.15" x2="97.15" y1="831.9" y2="837.4" stroke="#333333" stroke-width="1.5"/>
<rect x="91.15" y="813.9" width="12" height="18" fill="#e8843b" fill-opacity="0.72" stroke="#333333" stroke-width="1.6"/>
<line x1="91.15" x2="103.15" y1="829.1" y2="829.1" stroke="#333333" stroke-width="3.0"/>
<circle cx="97.15" cy="782.1" r="2.1" fill="#808080" fill-opacity="0.4" stroke="#808080" stroke-opacity="0.4" stroke-width="0.9"/>
<circle cx="97.15" cy="865.8" r="2.1" fill="#808080" fill-opacity="0.4" stroke="#808080" stroke-opacity="0.4" stroke-width="0.9"/>
<text x="97.15" y="934.1" font-size="12.3" text-anchor="middle" fill="#000" stroke="#000" stroke-width="0.35">a</text>
<line x1="112.88" x2="112.88" y1="792.7" y2="819.5" stroke="#333333" stroke-width="1.5"/>
<line x1="112.88" x2="112.88" y1="843" y2="869.1" stroke="#333333" stroke-width="1.5"/>
<rect x="106.88" y="819.5" width="12" height="23.5" fill="#ce607c" fill-opacity="0.72" stroke="#333333" stroke-width="1.6"/>
<line x1="106.88" x2="118.88" y1="838" y2="838" stroke="#333333" stroke-width="3.0"/>
<text x="112.88" y="934.1" font-size="12.3" text-anchor="middle" fill="#000" stroke="#000" stroke-width="0.35">a</text>
<line x1="128.6" x2="128.6" y1="816.5" y2="820" stroke="#333333" stroke-width="1.5"/>
<rect x="122.6" y="820" width="12" height="8.3" fill="#b740b6" fill-opacity="0.72" stroke="#333333" stroke-width="1.6"/>
<line x1="122.6" x2="134.6" y1="825" y2="825" stroke="#333333" stroke-width="3.0"/>
<circle cx="128.6" cy="803.8" r="2.1" fill="#808080" fill-opacity="0.4" stroke="#808080" stroke-opacity="0.4" stroke-width="0.9"/>
<circle cx="128.6" cy="841" r="2.1" fill="#808080" fill-opacity="0.4" stroke="#808080" stroke-opacity="0.4" stroke-width="0.9"/>
<text x="128.6" y="934.1" font-size="12.3" text-anchor="middle" fill="#000" stroke="#000" stroke-width="0.35">a</text>
<line x1="144.32" x2="144.32" y1="781.8" y2="801.3" stroke="#333333" stroke-width="1.5"/>
<line x1="144.32" x2="144.32" y1="820.5" y2="832.1" stroke="#333333" stroke-width="1.5"/>
<rect x="138.32" y="801.3" width="12" height="19.2" fill="#a020f0" fill-opacity="0.72" stroke="#333333" stroke-width="1.6"/>
<line x1="138.32" x2="150.32" y1="814.9" y2="814.9" stroke="#333333" stroke-width="3.0"/>
<text x="144.32" y="934.1" font-size="12.3" text-anchor="middle" fill="#000" stroke="#000" stroke-width="0.35">a</text>
<line x1="171.53" x2="171.53" y1="828" y2="829.2" stroke="#333333" stroke-width="1.5"/>
<line x1="171.53" x2="171.53" y1="835.3" y2="837.7" stroke="#333333" stroke-width="1.5"/>
<rect x="165.53" y="829.2" width="12" height="6.1" fill="#ffa500" fill-opacity="0.72" stroke="#333333" stroke-width="1.6"/>
<line x1="165.53" x2="177.53" y1="832" y2="832" stroke="#333333" stroke-width="3.0"/>
<circle cx="171.53" cy="722.4" r="2.1" fill="#808080" fill-opacity="0.4" stroke="#808080" stroke-opacity="0.4" stroke-width="0.9"/>
<circle cx="171.53" cy="810.4" r="2.1" fill="#808080" fill-opacity="0.4" stroke="#808080" stroke-opacity="0.4" stroke-width="0.9"/>
<circle cx="171.53" cy="819.5" r="2.1" fill="#808080" fill-opacity="0.4" stroke="#808080" stroke-opacity="0.4" stroke-width="0.9"/>
<circle cx="171.53" cy="845.3" r="2.1" fill="#808080" fill-opacity="0.4" stroke="#808080" stroke-opacity="0.4" stroke-width="0.9"/>
<circle cx="171.53" cy="847.3" r="2.1" fill="#808080" fill-opacity="0.4" stroke="#808080" stroke-opacity="0.4" stroke-width="0.9"/>
<text x="171.53" y="934.1" font-size="12.3" text-anchor="middle" fill="#000" stroke="#000" stroke-width="0.35">a</text>
<line x1="187.25" x2="187.25" y1="788.1" y2="812.2" stroke="#333333" stroke-width="1.5"/>
<line x1="187.25" x2="187.25" y1="845.3" y2="884.7" stroke="#333333" stroke-width="1.5"/>
<rect x="181.25" y="812.2" width="12" height="33.1" fill="#e8843b" fill-opacity="0.72" stroke="#333333" stroke-width="1.6"/>
<line x1="181.25" x2="193.25" y1="830.9" y2="830.9" stroke="#333333" stroke-width="3.0"/>
<text x="187.25" y="934.1" font-size="12.3" text-anchor="middle" fill="#000" stroke="#000" stroke-width="0.35">a</text>
<line x1="202.97" x2="202.97" y1="803.8" y2="822.5" stroke="#333333" stroke-width="1.5"/>
<line x1="202.97" x2="202.97" y1="857.2" y2="861.5" stroke="#333333" stroke-width="1.5"/>
<rect x="196.97" y="822.5" width="12" height="34.7" fill="#ce607c" fill-opacity="0.72" stroke="#333333" stroke-width="1.6"/>
<line x1="196.97" x2="208.97" y1="836.4" y2="836.4" stroke="#333333" stroke-width="3.0"/>
<text x="202.97" y="934.1" font-size="12.3" text-anchor="middle" fill="#000" stroke="#000" stroke-width="0.35">a</text>
<line x1="218.7" x2="218.7" y1="837.2" y2="843.5" stroke="#333333" stroke-width="1.5"/>
<rect x="212.7" y="809.4" width="12" height="27.8" fill="#b740b6" fill-opacity="0.72" stroke="#333333" stroke-width="1.6"/>
<line x1="212.7" x2="224.7" y1="828.6" y2="828.6" stroke="#333333" stroke-width="3.0"/>
<circle cx="218.7" cy="729.2" r="2.1" fill="#808080" fill-opacity="0.4" stroke="#808080" stroke-opacity="0.4" stroke-width="0.9"/>
<circle cx="218.7" cy="758.5" r="2.1" fill="#808080" fill-opacity="0.4" stroke="#808080" stroke-opacity="0.4" stroke-width="0.9"/>
<text x="218.7" y="934.1" font-size="12.3" text-anchor="middle" fill="#000" stroke="#000" stroke-width="0.35">a</text>
<line x1="234.42" x2="234.42" y1="801.3" y2="811.1" stroke="#333333" stroke-width="1.5"/>
<line x1="234.42" x2="234.42" y1="832.4" y2="838.7" stroke="#333333" stroke-width="1.5"/>
<rect x="228.42" y="811.1" width="12" height="21.3" fill="#a020f0" fill-opacity="0.72" stroke="#333333" stroke-width="1.6"/>
<line x1="228.42" x2="240.42" y1="820.2" y2="820.2" stroke="#333333" stroke-width="3.0"/>
<text x="234.42" y="934.1" font-size="12.3" text-anchor="middle" fill="#000" stroke="#000" stroke-width="0.35">a</text>
<line x1="261.63" x2="261.63" y1="817.7" y2="822.5" stroke="#333333" stroke-width="1.5"/>
<line x1="261.63" x2="261.63" y1="843.8" y2="862.7" stroke="#333333" stroke-width="1.5"/>
<rect x="255.63" y="822.5" width="12" height="21.3" fill="#ffa500" fill-opacity="0.72" stroke="#333333" stroke-width="1.6"/>
<line x1="255.63" x2="267.63" y1="833.4" y2="833.4" stroke="#333333" stroke-width="3.0"/>
<text x="261.63" y="934.1" font-size="12.3" text-anchor="middle" fill="#000" stroke="#000" stroke-width="0.35">a</text>
<line x1="277.35" x2="277.35" y1="791.2" y2="808.1" stroke="#333333" stroke-width="1.5"/>
<line x1="277.35" x2="277.35" y1="835.7" y2="856.2" stroke="#333333" stroke-width="1.5"/>
<rect x="271.35" y="808.1" width="12" height="27.6" fill="#e8843b" fill-opacity="0.72" stroke="#333333" stroke-width="1.6"/>
<line x1="271.35" x2="283.35" y1="820.8" y2="820.8" stroke="#333333" stroke-width="3.0"/>
<text x="277.35" y="934.1" font-size="12.3" text-anchor="middle" fill="#000" stroke="#000" stroke-width="0.35">a</text>
<line x1="293.07" x2="293.07" y1="813.2" y2="821.8" stroke="#333333" stroke-width="1.5"/>
<line x1="293.07" x2="293.07" y1="849.3" y2="863.7" stroke="#333333" stroke-width="1.5"/>
<rect x="287.07" y="821.8" width="12" height="27.5" fill="#ce607c" fill-opacity="0.72" stroke="#333333" stroke-width="1.6"/>
<line x1="287.07" x2="299.07" y1="827.1" y2="827.1" stroke="#333333" stroke-width="3.0"/>
<text x="293.07" y="934.1" font-size="12.3" text-anchor="middle" fill="#000" stroke="#000" stroke-width="0.35">a</text>
<line x1="308.8" x2="308.8" y1="797.2" y2="808.9" stroke="#333333" stroke-width="1.5"/>
<line x1="308.8" x2="308.8" y1="832.4" y2="846.8" stroke="#333333" stroke-width="1.5"/>
<rect x="302.8" y="808.9" width="12" height="23.5" fill="#b740b6" fill-opacity="0.72" stroke="#333333" stroke-width="1.6"/>
<line x1="302.8" x2="314.8" y1="819.5" y2="819.5" stroke="#333333" stroke-width="3.0"/>
<text x="308.8" y="934.1" font-size="12.3" text-anchor="middle" fill="#000" stroke="#000" stroke-width="0.35">a</text>
<line x1="324.52" x2="324.52" y1="812.2" y2="824.5" stroke="#333333" stroke-width="1.5"/>
<line x1="324.52" x2="324.52" y1="842" y2="853.9" stroke="#333333" stroke-width="1.5"/>
<rect x="318.52" y="824.5" width="12" height="17.5" fill="#a020f0" fill-opacity="0.72" stroke="#333333" stroke-width="1.6"/>
<line x1="318.52" x2="330.52" y1="833.4" y2="833.4" stroke="#333333" stroke-width="3.0"/>
<circle cx="324.52" cy="874.1" r="2.1" fill="#808080" fill-opacity="0.4" stroke="#808080" stroke-opacity="0.4" stroke-width="0.9"/>
<text x="324.52" y="934.1" font-size="12.3" text-anchor="middle" fill="#000" stroke="#000" stroke-width="0.35">a</text>
<path d="M72 691.7V949.1H153.75" fill="none" stroke="#000" stroke-width="1.6" stroke-linejoin="round"/>
<line x1="81.43" x2="81.43" y1="949.1" y2="953.5" stroke="#333" stroke-width="1.4"/>
<line x1="97.15" x2="97.15" y1="949.1" y2="953.5" stroke="#333" stroke-width="1.4"/>
<line x1="112.88" x2="112.88" y1="949.1" y2="953.5" stroke="#333" stroke-width="1.4"/>
<line x1="128.6" x2="128.6" y1="949.1" y2="953.5" stroke="#333" stroke-width="1.4"/>
<line x1="144.32" x2="144.32" y1="949.1" y2="953.5" stroke="#333" stroke-width="1.4"/>
<rect x="73.2" y="666.4" width="79.45" height="24.7" fill="#fff" stroke="#000" stroke-width="1.6"/>
<text x="113.17" y="684" font-size="14" text-anchor="middle" fill="#1a1a1a">C1</text>
<text transform="translate(86.73,961.6) rotate(-45)" font-size="10" text-anchor="end" fill="#555">FRE</text>
<text transform="translate(102.45,961.6) rotate(-45)" font-size="10" text-anchor="end" fill="#555">HAM</text>
<text transform="translate(118.17,961.6) rotate(-45)" font-size="10" text-anchor="end" fill="#555">NOR</text>
<text transform="translate(133.9,961.6) rotate(-45)" font-size="10" text-anchor="end" fill="#555">BAD</text>
<text transform="translate(149.62,961.6) rotate(-45)" font-size="10" text-anchor="end" fill="#555">BOD</text>
<line x1="162.1" x2="243.85" y1="949.1" y2="949.1" stroke="#000" stroke-width="1.6"/>
<line x1="171.53" x2="171.53" y1="949.1" y2="953.5" stroke="#333" stroke-width="1.4"/>
<line x1="187.25" x2="187.25" y1="949.1" y2="953.5" stroke="#333" stroke-width="1.4"/>
<line x1="202.97" x2="202.97" y1="949.1" y2="953.5" stroke="#333" stroke-width="1.4"/>
<line x1="218.7" x2="218.7" y1="949.1" y2="953.5" stroke="#333" stroke-width="1.4"/>
<line x1="234.42" x2="234.42" y1="949.1" y2="953.5" stroke="#333" stroke-width="1.4"/>
<rect x="163.3" y="666.4" width="79.45" height="24.7" fill="#fff" stroke="#000" stroke-width="1.6"/>
<text x="203.28" y="684" font-size="14" text-anchor="middle" fill="#1a1a1a">C2</text>
<text transform="translate(176.83,961.6) rotate(-45)" font-size="10" text-anchor="end" fill="#555">FRE</text>
<text transform="translate(192.55,961.6) rotate(-45)" font-size="10" text-anchor="end" fill="#555">HAM</text>
<text transform="translate(208.28,961.6) rotate(-45)" font-size="10" text-anchor="end" fill="#555">NOR</text>
<text transform="translate(224,961.6) rotate(-45)" font-size="10" text-anchor="end" fill="#555">BAD</text>
<text transform="translate(239.72,961.6) rotate(-45)" font-size="10" text-anchor="end" fill="#555">BOD</text>
<line x1="252.2" x2="333.95" y1="949.1" y2="949.1" stroke="#000" stroke-width="1.6"/>
<line x1="261.63" x2="261.63" y1="949.1" y2="953.5" stroke="#333" stroke-width="1.4"/>
<line x1="277.35" x2="277.35" y1="949.1" y2="953.5" stroke="#333" stroke-width="1.4"/>
<line x1="293.07" x2="293.07" y1="949.1" y2="953.5" stroke="#333" stroke-width="1.4"/>
<line x1="308.8" x2="308.8" y1="949.1" y2="953.5" stroke="#333" stroke-width="1.4"/>
<line x1="324.52" x2="324.52" y1="949.1" y2="953.5" stroke="#333" stroke-width="1.4"/>
<rect x="253.4" y="666.4" width="79.45" height="24.7" fill="#fff" stroke="#000" stroke-width="1.6"/>
<text x="293.38" y="684" font-size="14" text-anchor="middle" fill="#1a1a1a">C3</text>
<text transform="translate(266.93,961.6) rotate(-45)" font-size="10" text-anchor="end" fill="#555">FRE</text>
<text transform="translate(282.65,961.6) rotate(-45)" font-size="10" text-anchor="end" fill="#555">HAM</text>
<text transform="translate(298.38,961.6) rotate(-45)" font-size="10" text-anchor="end" fill="#555">NOR</text>
<text transform="translate(314.1,961.6) rotate(-45)" font-size="10" text-anchor="end" fill="#555">BAD</text>
<text transform="translate(329.82,961.6) rotate(-45)" font-size="10" text-anchor="end" fill="#555">BOD</text>
<line x1="68" x2="72" y1="755.2" y2="755.2" stroke="#333" stroke-width="1.4"/>
<text x="64" y="759.9" font-size="13.3" font-weight="bold" text-anchor="end" fill="#4d4d4d">-2</text>
<line x1="68" x2="72" y1="828.4" y2="828.4" stroke="#333" stroke-width="1.4"/>
<text x="64" y="833.1" font-size="13.3" font-weight="bold" text-anchor="end" fill="#4d4d4d">-3</text>
<line x1="68" x2="72" y1="901.3" y2="901.3" stroke="#333" stroke-width="1.4"/>
<text x="64" y="906" font-size="13.3" font-weight="bold" text-anchor="end" fill="#4d4d4d">-4</text>
<text transform="translate(10.9,820.2) rotate(-90)" font-size="14" text-anchor="middle" fill="#1a1a1a">P<tspan dy="3.1" font-size="9.5">12</tspan><tspan dy="-3.1"> (MPa)</tspan></text>
<text x="0.3" y="670.2" font-size="12.6" font-weight="bold" fill="#000">(e)</text>
<line x1="422.5" x2="504.25" y1="755.2" y2="755.2" stroke="#ececec" stroke-width="1"/>
<line x1="422.5" x2="504.25" y1="828.4" y2="828.4" stroke="#ececec" stroke-width="1"/>
<line x1="422.5" x2="504.25" y1="901.5" y2="901.5" stroke="#ececec" stroke-width="1"/>
<line x1="431.93" x2="431.93" y1="691.1" y2="949.1" stroke="#e8e8e8" stroke-width="1"/>
<line x1="447.65" x2="447.65" y1="691.1" y2="949.1" stroke="#e8e8e8" stroke-width="1"/>
<line x1="463.38" x2="463.38" y1="691.1" y2="949.1" stroke="#e8e8e8" stroke-width="1"/>
<line x1="479.1" x2="479.1" y1="691.1" y2="949.1" stroke="#e8e8e8" stroke-width="1"/>
<line x1="494.82" x2="494.82" y1="691.1" y2="949.1" stroke="#e8e8e8" stroke-width="1"/>
<line x1="512.6" x2="594.35" y1="755.2" y2="755.2" stroke="#ececec" stroke-width="1"/>
<line x1="512.6" x2="594.35" y1="828.4" y2="828.4" stroke="#ececec" stroke-width="1"/>
<line x1="512.6" x2="594.35" y1="901.5" y2="901.5" stroke="#ececec" stroke-width="1"/>
<line x1="522.03" x2="522.03" y1="691.1" y2="949.1" stroke="#e8e8e8" stroke-width="1"/>
<line x1="537.75" x2="537.75" y1="691.1" y2="949.1" stroke="#e8e8e8" stroke-width="1"/>
<line x1="553.48" x2="553.48" y1="691.1" y2="949.1" stroke="#e8e8e8" stroke-width="1"/>
<line x1="569.2" x2="569.2" y1="691.1" y2="949.1" stroke="#e8e8e8" stroke-width="1"/>
<line x1="584.92" x2="584.92" y1="691.1" y2="949.1" stroke="#e8e8e8" stroke-width="1"/>
<line x1="602.7" x2="684.45" y1="755.2" y2="755.2" stroke="#ececec" stroke-width="1"/>
<line x1="602.7" x2="684.45" y1="828.4" y2="828.4" stroke="#ececec" stroke-width="1"/>
<line x1="602.7" x2="684.45" y1="901.5" y2="901.5" stroke="#ececec" stroke-width="1"/>
<line x1="612.13" x2="612.13" y1="691.1" y2="949.1" stroke="#e8e8e8" stroke-width="1"/>
<line x1="627.85" x2="627.85" y1="691.1" y2="949.1" stroke="#e8e8e8" stroke-width="1"/>
<line x1="643.58" x2="643.58" y1="691.1" y2="949.1" stroke="#e8e8e8" stroke-width="1"/>
<line x1="659.3" x2="659.3" y1="691.1" y2="949.1" stroke="#e8e8e8" stroke-width="1"/>
<line x1="675.02" x2="675.02" y1="691.1" y2="949.1" stroke="#e8e8e8" stroke-width="1"/>
<line x1="431.93" x2="431.93" y1="839.2" y2="853.9" stroke="#333333" stroke-width="1.5"/>
<line x1="431.93" x2="431.93" y1="870.1" y2="888.5" stroke="#333333" stroke-width="1.5"/>
<rect x="425.93" y="853.9" width="12" height="16.2" fill="#ffa500" fill-opacity="0.72" stroke="#333333" stroke-width="1.6"/>
<line x1="425.93" x2="437.93" y1="863.2" y2="863.2" stroke="#333333" stroke-width="3.0"/>
<circle cx="431.93" cy="828.6" r="2.1" fill="#808080" fill-opacity="0.4" stroke="#808080" stroke-opacity="0.4" stroke-width="0.9"/>
<text x="431.93" y="934.1" font-size="12.3" text-anchor="middle" fill="#000" stroke="#000" stroke-width="0.35">a</text>
<line x1="447.65" x2="447.65" y1="842.5" y2="856.7" stroke="#333333" stroke-width="1.5"/>
<line x1="447.65" x2="447.65" y1="873.9" y2="897.9" stroke="#333333" stroke-width="1.5"/>
<rect x="441.65" y="856.7" width="12" height="17.2" fill="#e8843b" fill-opacity="0.72" stroke="#333333" stroke-width="1.6"/>
<line x1="441.65" x2="453.65" y1="871.6" y2="871.6" stroke="#333333" stroke-width="3.0"/>
<circle cx="447.65" cy="825.6" r="2.1" fill="#808080" fill-opacity="0.4" stroke="#808080" stroke-opacity="0.4" stroke-width="0.9"/>
<text x="447.65" y="934.1" font-size="12.3" text-anchor="middle" fill="#000" stroke="#000" stroke-width="0.35">a</text>
<line x1="463.38" x2="463.38" y1="843" y2="859.2" stroke="#333333" stroke-width="1.5"/>
<line x1="463.38" x2="463.38" y1="875.4" y2="876.1" stroke="#333333" stroke-width="1.5"/>
<rect x="457.38" y="859.2" width="12" height="16.2" fill="#ce607c" fill-opacity="0.72" stroke="#333333" stroke-width="1.6"/>
<line x1="457.38" x2="469.38" y1="864.5" y2="864.5" stroke="#333333" stroke-width="3.0"/>
<circle cx="463.38" cy="922.7" r="2.1" fill="#808080" fill-opacity="0.4" stroke="#808080" stroke-opacity="0.4" stroke-width="0.9"/>
<text x="463.38" y="934.1" font-size="12.3" text-anchor="middle" fill="#000" stroke="#000" stroke-width="0.35">a</text>
<line x1="479.1" x2="479.1" y1="851.1" y2="860.7" stroke="#333333" stroke-width="1.5"/>
<line x1="479.1" x2="479.1" y1="875.4" y2="884.2" stroke="#333333" stroke-width="1.5"/>
<rect x="473.1" y="860.7" width="12" height="14.7" fill="#b740b6" fill-opacity="0.72" stroke="#333333" stroke-width="1.6"/>
<line x1="473.1" x2="485.1" y1="867.8" y2="867.8" stroke="#333333" stroke-width="3.0"/>
<text x="479.1" y="934.1" font-size="12.3" text-anchor="middle" fill="#000" stroke="#000" stroke-width="0.35">a</text>
<line x1="494.82" x2="494.82" y1="817.2" y2="844.3" stroke="#333333" stroke-width="1.5"/>
<line x1="494.82" x2="494.82" y1="865.8" y2="871.6" stroke="#333333" stroke-width="1.5"/>
<rect x="488.82" y="844.3" width="12" height="21.5" fill="#a020f0" fill-opacity="0.72" stroke="#333333" stroke-width="1.6"/>
<line x1="488.82" x2="500.82" y1="856.7" y2="856.7" stroke="#333333" stroke-width="3.0"/>
<text x="494.82" y="934.1" font-size="12.3" text-anchor="middle" fill="#000" stroke="#000" stroke-width="0.35">a</text>
<line x1="522.03" x2="522.03" y1="829.9" y2="855.4" stroke="#333333" stroke-width="1.5"/>
<line x1="522.03" x2="522.03" y1="873.4" y2="881.5" stroke="#333333" stroke-width="1.5"/>
<rect x="516.03" y="855.4" width="12" height="18" fill="#ffa500" fill-opacity="0.72" stroke="#333333" stroke-width="1.6"/>
<line x1="516.03" x2="528.03" y1="863" y2="863" stroke="#333333" stroke-width="3.0"/>
<text x="522.03" y="934.1" font-size="12.3" text-anchor="middle" fill="#000" stroke="#000" stroke-width="0.35">a</text>
<line x1="537.75" x2="537.75" y1="827.1" y2="847.3" stroke="#333333" stroke-width="1.5"/>
<line x1="537.75" x2="537.75" y1="884" y2="917.9" stroke="#333333" stroke-width="1.5"/>
<rect x="531.75" y="847.3" width="12" height="36.7" fill="#e8843b" fill-opacity="0.72" stroke="#333333" stroke-width="1.6"/>
<line x1="531.75" x2="543.75" y1="855.7" y2="855.7" stroke="#333333" stroke-width="3.0"/>
<text x="537.75" y="934.1" font-size="12.3" text-anchor="middle" fill="#000" stroke="#000" stroke-width="0.35">a</text>
<line x1="553.48" x2="553.48" y1="851.1" y2="859.4" stroke="#333333" stroke-width="1.5"/>
<line x1="553.48" x2="553.48" y1="888" y2="892.3" stroke="#333333" stroke-width="1.5"/>
<rect x="547.48" y="859.4" width="12" height="28.6" fill="#ce607c" fill-opacity="0.72" stroke="#333333" stroke-width="1.6"/>
<line x1="547.48" x2="559.48" y1="871.1" y2="871.1" stroke="#333333" stroke-width="3.0"/>
<text x="553.48" y="934.1" font-size="12.3" text-anchor="middle" fill="#000" stroke="#000" stroke-width="0.35">a</text>
<line x1="569.2" x2="569.2" y1="816.5" y2="857.2" stroke="#333333" stroke-width="1.5"/>
<line x1="569.2" x2="569.2" y1="886.3" y2="891.1" stroke="#333333" stroke-width="1.5"/>
<rect x="563.2" y="857.2" width="12" height="29.1" fill="#b740b6" fill-opacity="0.72" stroke="#333333" stroke-width="1.6"/>
<line x1="563.2" x2="575.2" y1="868.3" y2="868.3" stroke="#333333" stroke-width="3.0"/>
<text x="569.2" y="934.1" font-size="12.3" text-anchor="middle" fill="#000" stroke="#000" stroke-width="0.35">a</text>
<line x1="584.92" x2="584.92" y1="842.3" y2="848.6" stroke="#333333" stroke-width="1.5"/>
<line x1="584.92" x2="584.92" y1="863.5" y2="878.7" stroke="#333333" stroke-width="1.5"/>
<rect x="578.92" y="848.6" width="12" height="14.9" fill="#a020f0" fill-opacity="0.72" stroke="#333333" stroke-width="1.6"/>
<line x1="578.92" x2="590.92" y1="857.2" y2="857.2" stroke="#333333" stroke-width="3.0"/>
<text x="584.92" y="934.1" font-size="12.3" text-anchor="middle" fill="#000" stroke="#000" stroke-width="0.35">a</text>
<line x1="612.13" x2="612.13" y1="853.1" y2="857.4" stroke="#333333" stroke-width="1.5"/>
<line x1="612.13" x2="612.13" y1="873.4" y2="895.6" stroke="#333333" stroke-width="1.5"/>
<rect x="606.13" y="857.4" width="12" height="16" fill="#ffa500" fill-opacity="0.72" stroke="#333333" stroke-width="1.6"/>
<line x1="606.13" x2="618.13" y1="864" y2="864" stroke="#333333" stroke-width="3.0"/>
<text x="612.13" y="934.1" font-size="12.3" text-anchor="middle" fill="#000" stroke="#000" stroke-width="0.35">a</text>
<line x1="627.85" x2="627.85" y1="832.4" y2="847.1" stroke="#333333" stroke-width="1.5"/>
<line x1="627.85" x2="627.85" y1="880.2" y2="891.6" stroke="#333333" stroke-width="1.5"/>
<rect x="621.85" y="847.1" width="12" height="33.1" fill="#e8843b" fill-opacity="0.72" stroke="#333333" stroke-width="1.6"/>
<line x1="621.85" x2="633.85" y1="866.5" y2="866.5" stroke="#333333" stroke-width="3.0"/>
<text x="627.85" y="934.1" font-size="12.3" text-anchor="middle" fill="#000" stroke="#000" stroke-width="0.35">a</text>
<line x1="643.58" x2="643.58" y1="840" y2="854.9" stroke="#333333" stroke-width="1.5"/>
<line x1="643.58" x2="643.58" y1="879.2" y2="905.2" stroke="#333333" stroke-width="1.5"/>
<rect x="637.58" y="854.9" width="12" height="24.3" fill="#ce607c" fill-opacity="0.72" stroke="#333333" stroke-width="1.6"/>
<line x1="637.58" x2="649.58" y1="860.7" y2="860.7" stroke="#333333" stroke-width="3.0"/>
<text x="643.58" y="934.1" font-size="12.3" text-anchor="middle" fill="#000" stroke="#000" stroke-width="0.35">a</text>
<line x1="659.3" x2="659.3" y1="845.3" y2="861.7" stroke="#333333" stroke-width="1.5"/>
<line x1="659.3" x2="659.3" y1="873.6" y2="877.7" stroke="#333333" stroke-width="1.5"/>
<rect x="653.3" y="861.7" width="12" height="11.9" fill="#b740b6" fill-opacity="0.72" stroke="#333333" stroke-width="1.6"/>
<line x1="653.3" x2="665.3" y1="868" y2="868" stroke="#333333" stroke-width="3.0"/>
<text x="659.3" y="934.1" font-size="12.3" text-anchor="middle" fill="#000" stroke="#000" stroke-width="0.35">a</text>
<line x1="675.02" x2="675.02" y1="844.8" y2="862.7" stroke="#333333" stroke-width="1.5"/>
<line x1="675.02" x2="675.02" y1="882.7" y2="890.6" stroke="#333333" stroke-width="1.5"/>
<rect x="669.02" y="862.7" width="12" height="20" fill="#a020f0" fill-opacity="0.72" stroke="#333333" stroke-width="1.6"/>
<line x1="669.02" x2="681.02" y1="870.8" y2="870.8" stroke="#333333" stroke-width="3.0"/>
<circle cx="675.02" cy="925.2" r="2.1" fill="#808080" fill-opacity="0.4" stroke="#808080" stroke-opacity="0.4" stroke-width="0.9"/>
<text x="675.02" y="934.1" font-size="12.3" text-anchor="middle" fill="#000" stroke="#000" stroke-width="0.35">a</text>
<path d="M422.5 691.7V949.1H504.25" fill="none" stroke="#000" stroke-width="1.6" stroke-linejoin="round"/>
<line x1="431.93" x2="431.93" y1="949.1" y2="953.5" stroke="#333" stroke-width="1.4"/>
<line x1="447.65" x2="447.65" y1="949.1" y2="953.5" stroke="#333" stroke-width="1.4"/>
<line x1="463.38" x2="463.38" y1="949.1" y2="953.5" stroke="#333" stroke-width="1.4"/>
<line x1="479.1" x2="479.1" y1="949.1" y2="953.5" stroke="#333" stroke-width="1.4"/>
<line x1="494.82" x2="494.82" y1="949.1" y2="953.5" stroke="#333" stroke-width="1.4"/>
<rect x="423.7" y="666.4" width="79.45" height="24.7" fill="#fff" stroke="#000" stroke-width="1.6"/>
<text x="463.68" y="684" font-size="14" text-anchor="middle" fill="#1a1a1a">C1</text>
<text transform="translate(437.23,961.6) rotate(-45)" font-size="10" text-anchor="end" fill="#555">FRE</text>
<text transform="translate(452.95,961.6) rotate(-45)" font-size="10" text-anchor="end" fill="#555">HAM</text>
<text transform="translate(468.68,961.6) rotate(-45)" font-size="10" text-anchor="end" fill="#555">NOR</text>
<text transform="translate(484.4,961.6) rotate(-45)" font-size="10" text-anchor="end" fill="#555">BAD</text>
<text transform="translate(500.12,961.6) rotate(-45)" font-size="10" text-anchor="end" fill="#555">BOD</text>
<line x1="512.6" x2="594.35" y1="949.1" y2="949.1" stroke="#000" stroke-width="1.6"/>
<line x1="522.03" x2="522.03" y1="949.1" y2="953.5" stroke="#333" stroke-width="1.4"/>
<line x1="537.75" x2="537.75" y1="949.1" y2="953.5" stroke="#333" stroke-width="1.4"/>
<line x1="553.48" x2="553.48" y1="949.1" y2="953.5" stroke="#333" stroke-width="1.4"/>
<line x1="569.2" x2="569.2" y1="949.1" y2="953.5" stroke="#333" stroke-width="1.4"/>
<line x1="584.92" x2="584.92" y1="949.1" y2="953.5" stroke="#333" stroke-width="1.4"/>
<rect x="513.8" y="666.4" width="79.45" height="24.7" fill="#fff" stroke="#000" stroke-width="1.6"/>
<text x="553.77" y="684" font-size="14" text-anchor="middle" fill="#1a1a1a">C2</text>
<text transform="translate(527.33,961.6) rotate(-45)" font-size="10" text-anchor="end" fill="#555">FRE</text>
<text transform="translate(543.05,961.6) rotate(-45)" font-size="10" text-anchor="end" fill="#555">HAM</text>
<text transform="translate(558.77,961.6) rotate(-45)" font-size="10" text-anchor="end" fill="#555">NOR</text>
<text transform="translate(574.5,961.6) rotate(-45)" font-size="10" text-anchor="end" fill="#555">BAD</text>
<text transform="translate(590.22,961.6) rotate(-45)" font-size="10" text-anchor="end" fill="#555">BOD</text>
<line x1="602.7" x2="684.45" y1="949.1" y2="949.1" stroke="#000" stroke-width="1.6"/>
<line x1="612.13" x2="612.13" y1="949.1" y2="953.5" stroke="#333" stroke-width="1.4"/>
<line x1="627.85" x2="627.85" y1="949.1" y2="953.5" stroke="#333" stroke-width="1.4"/>
<line x1="643.58" x2="643.58" y1="949.1" y2="953.5" stroke="#333" stroke-width="1.4"/>
<line x1="659.3" x2="659.3" y1="949.1" y2="953.5" stroke="#333" stroke-width="1.4"/>
<line x1="675.02" x2="675.02" y1="949.1" y2="953.5" stroke="#333" stroke-width="1.4"/>
<rect x="603.9" y="666.4" width="79.45" height="24.7" fill="#fff" stroke="#000" stroke-width="1.6"/>
<text x="643.88" y="684" font-size="14" text-anchor="middle" fill="#1a1a1a">C3</text>
<text transform="translate(617.43,961.6) rotate(-45)" font-size="10" text-anchor="end" fill="#555">FRE</text>
<text transform="translate(633.15,961.6) rotate(-45)" font-size="10" text-anchor="end" fill="#555">HAM</text>
<text transform="translate(648.88,961.6) rotate(-45)" font-size="10" text-anchor="end" fill="#555">NOR</text>
<text transform="translate(664.6,961.6) rotate(-45)" font-size="10" text-anchor="end" fill="#555">BAD</text>
<text transform="translate(680.32,961.6) rotate(-45)" font-size="10" text-anchor="end" fill="#555">BOD</text>
<line x1="418.5" x2="422.5" y1="755.2" y2="755.2" stroke="#333" stroke-width="1.4"/>
<text x="414.5" y="759.9" font-size="13.3" font-weight="bold" text-anchor="end" fill="#4d4d4d">-2</text>
<line x1="418.5" x2="422.5" y1="828.4" y2="828.4" stroke="#333" stroke-width="1.4"/>
<text x="414.5" y="833.1" font-size="13.3" font-weight="bold" text-anchor="end" fill="#4d4d4d">-3</text>
<line x1="418.5" x2="422.5" y1="901.5" y2="901.5" stroke="#333" stroke-width="1.4"/>
<text x="414.5" y="906.2" font-size="13.3" font-weight="bold" text-anchor="end" fill="#4d4d4d">-4</text>
<text transform="translate(360.9,820.3) rotate(-90)" font-size="14" text-anchor="middle" fill="#1a1a1a">P<tspan dy="2.8" font-size="9.5">50</tspan><tspan dy="-2.8"> (MPa)</tspan></text>
<text x="350.8" y="670.2" font-size="12.6" font-weight="bold" fill="#000">(f)</text>
<text x="120.8" y="1016.6" font-size="14.1" fill="#1a1a1a">Climatic water balance (mm yr.<tspan dx="1.2" dy="-7.2" font-size="9.8">−1</tspan><tspan dx="0.4" dy="7.2">)</tspan></text>
<rect x="345.8" y="1002.9" width="203.3" height="12.1" fill="url(#cg)"/>
<line x1="350.5" x2="350.5" y1="1002.9" y2="1007.8" stroke="#fff" stroke-width="1.0"/>
<line x1="350.5" x2="350.5" y1="1010.0" y2="1015.0" stroke="#fff" stroke-width="1.0"/>
<line x1="420.9" x2="420.9" y1="1002.9" y2="1007.8" stroke="#fff" stroke-width="1.0"/>
<line x1="420.9" x2="420.9" y1="1010.0" y2="1015.0" stroke="#fff" stroke-width="1.0"/>
<line x1="491.3" x2="491.3" y1="1002.9" y2="1007.8" stroke="#fff" stroke-width="1.0"/>
<line x1="491.3" x2="491.3" y1="1010.0" y2="1015.0" stroke="#fff" stroke-width="1.0"/>
<text x="350.6" y="1035.0" font-size="17" text-anchor="middle" fill="#1a1a1a">200</text>
<text x="420.6" y="1035.0" font-size="17" text-anchor="middle" fill="#1a1a1a">400</text>
<text x="490.8" y="1035.0" font-size="17" text-anchor="middle" fill="#1a1a1a">600</text>
</svg>
</body></html>
